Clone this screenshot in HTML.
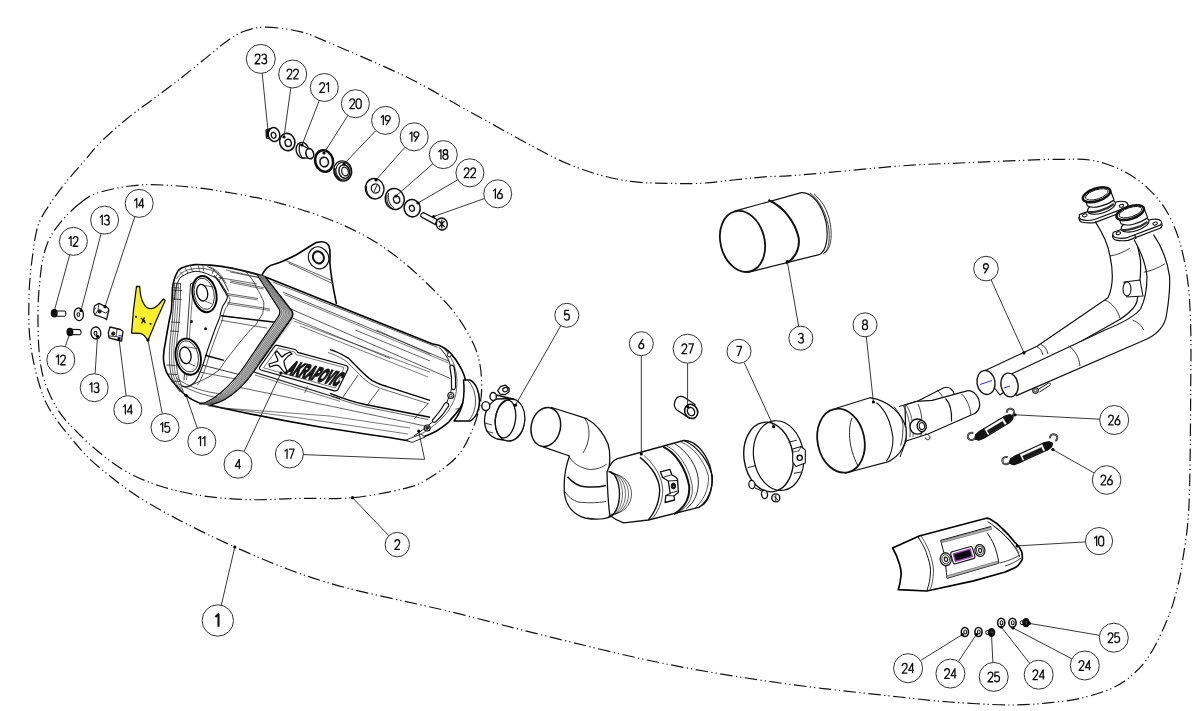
<!DOCTYPE html>
<html><head><meta charset="utf-8"><style>
html,body{margin:0;padding:0;background:#fff;overflow:hidden;}
svg{display:block;will-change:transform;}
text{font-family:"Liberation Sans",sans-serif;text-anchor:middle;fill:#111;}
</style></head><body>
<svg width="1201" height="711" viewBox="0 0 1201 711">
<rect width="1201" height="711" fill="#fff"/>
<path d="M266.0,27.2 C275.2,27.3 289.6,29.1 300.0,31.6 C310.4,34.1 310.5,34.8 328.3,42.4 C346.1,50.0 383.5,65.7 406.6,77.0 C429.7,88.3 445.6,98.4 466.7,110.0 C487.8,121.6 516.6,137.8 533.3,146.7 C550.0,155.6 555.6,158.6 566.7,163.3 C577.8,168.0 588.9,171.9 600.0,175.0 C611.1,178.1 622.2,180.3 633.3,181.7 C644.4,183.1 655.6,183.0 666.7,183.3 C677.8,183.6 688.9,183.9 700.0,183.3 C711.1,182.8 722.2,181.1 733.3,180.0 C744.4,178.9 755.6,177.5 766.7,176.7 C777.8,175.9 777.8,176.8 800.0,175.0 C822.2,173.2 873.3,168.0 900.0,166.0 C926.7,164.0 940.0,163.9 960.0,163.0 C980.0,162.1 1003.3,161.1 1020.0,160.5 C1036.7,159.9 1047.8,159.2 1060.4,159.3 C1073.0,159.4 1083.8,158.4 1095.5,161.0 C1107.2,163.6 1120.0,168.6 1130.5,175.0 C1141.0,181.4 1150.9,190.3 1158.5,199.6 C1166.1,208.9 1171.3,218.7 1176.0,231.0 C1180.7,243.3 1184.2,258.4 1186.6,273.2 C1189.0,288.0 1189.8,301.1 1190.5,320.0 C1191.2,338.9 1191.0,355.7 1190.7,386.5 C1190.5,417.3 1190.3,475.8 1189.0,504.7 C1187.7,533.6 1184.6,546.2 1182.7,560.0 C1180.8,573.8 1179.7,578.4 1177.4,587.6 C1175.1,596.8 1173.2,604.6 1169.0,615.2 C1164.8,625.8 1157.7,641.8 1152.0,651.3 C1146.3,660.8 1141.4,666.5 1135.0,672.5 C1128.6,678.5 1122.5,683.1 1113.7,687.4 C1104.9,691.6 1092.5,695.5 1081.9,698.0 C1071.3,700.5 1062.0,701.5 1050.0,702.7 C1038.0,703.9 1026.7,705.1 1010.0,705.0 C993.3,704.9 968.4,703.3 950.0,702.0 C931.6,700.7 927.7,700.1 899.7,697.0 C871.7,693.9 821.4,688.8 782.2,683.3 C743.1,677.8 703.9,671.5 664.8,663.7 C625.7,655.9 583.2,645.0 547.4,636.3 C511.6,627.6 486.7,620.6 450.0,611.6 C413.3,602.6 363.1,593.3 327.2,582.5 C291.3,571.7 264.3,560.1 234.8,547.0 C205.3,533.9 172.5,517.2 150.0,504.0 C127.5,490.8 112.3,478.0 100.0,468.0 C87.7,458.0 84.3,453.7 76.0,444.0 C67.7,434.3 56.3,420.7 50.0,410.0 C43.7,399.3 41.3,391.7 38.0,380.0 C34.7,368.3 31.5,353.9 30.0,340.0 C28.5,326.1 28.7,309.9 29.0,296.6 C29.3,283.3 30.5,271.8 32.0,260.0 C33.5,248.2 35.0,235.0 38.0,225.7 C41.0,216.4 45.7,210.8 50.0,204.0 C54.3,197.2 57.9,192.3 63.7,185.0 C69.5,177.7 78.8,167.2 85.0,160.0 C91.2,152.8 94.1,148.6 101.0,141.8 C107.9,135.0 118.1,126.0 126.6,119.0 C135.1,112.0 143.5,106.3 151.9,100.0 C160.3,93.7 168.8,87.5 177.2,81.0 C185.6,74.5 194.1,67.5 202.5,60.8 C210.9,54.0 220.7,45.5 227.8,40.5 C234.9,35.5 238.6,33.2 245.0,31.0 C251.4,28.8 256.8,27.1 266.0,27.2Z" fill="none" stroke="#111" stroke-width="1.2" stroke-dasharray="12.5 3.5 1.2 3 1.2 3.5"/>
<path d="M80.0,203.3 C74.3,207.7 67.7,214.1 62.7,219.8 C57.7,225.5 53.3,231.3 50.0,237.7 C46.7,244.1 44.8,250.1 43.0,258.0 C41.2,265.9 40.3,276.3 39.5,285.0 C38.7,293.7 38.1,299.2 38.0,310.0 C37.9,320.8 38.0,338.2 39.0,350.0 C40.0,361.8 41.1,370.6 44.3,380.6 C47.5,390.6 52.7,401.6 58.0,410.0 C63.3,418.4 69.0,423.8 76.0,431.0 C83.0,438.2 91.6,446.2 100.0,453.0 C108.4,459.8 116.6,466.3 126.6,471.8 C136.6,477.3 147.3,482.0 160.0,486.0 C172.7,490.0 187.3,493.5 202.5,495.8 C217.7,498.1 234.8,499.3 251.0,499.7 C267.2,500.1 283.1,498.7 300.0,498.4 C316.9,498.1 335.3,499.3 352.5,497.7 C369.7,496.1 390.8,491.8 403.0,488.9 C415.2,485.9 417.0,485.4 426.0,480.0 C435.0,474.6 449.2,465.3 457.0,456.6 C464.8,447.9 469.0,437.8 473.0,428.0 C477.0,418.2 479.8,408.5 481.0,398.0 C482.2,387.5 481.8,375.2 480.0,365.0 C478.2,354.8 475.6,347.3 470.0,337.0 C464.4,326.7 458.7,316.6 446.4,303.2 C434.1,289.8 413.1,269.4 396.4,256.6 C379.7,243.8 365.8,235.5 346.4,226.6 C327.0,217.7 302.2,209.4 280.0,203.3 C257.8,197.2 232.6,193.1 213.2,190.0 C193.8,186.9 177.2,185.7 163.3,185.0 C149.4,184.3 141.1,184.6 130.0,186.0 C118.9,187.4 105.0,190.4 96.7,193.3 C88.4,196.2 85.7,198.9 80.0,203.3Z" fill="none" stroke="#111" stroke-width="1.2" stroke-dasharray="12.5 3.5 1.2 3 1.2 3.5"/>
<path d="M262,275 C265,268 270,265 275,264 C282,262 290,258 296,255 L312,245 C318,240.5 326,240.5 329,246 C331,252 329.5,258 330,264 C331,278 334,292 336.5,304" fill="#fff" stroke="#000" stroke-width="1.60" stroke-linejoin="round"/>
<polyline points="286.0,260.6 333.0,281.0" fill="none" stroke="#222" stroke-width="0.70" stroke-linejoin="round"/>
<polyline points="288.5,262.9 333.5,284.0" fill="none" stroke="#222" stroke-width="0.70" stroke-linejoin="round"/>
<ellipse cx="318.6" cy="257.8" rx="10.0" ry="11.2" transform="rotate(-25.0 318.6 257.8)" fill="#fff" stroke="#111" stroke-width="1.10"/>
<ellipse cx="318.4" cy="257.4" rx="5.3" ry="6.2" transform="rotate(-25.0 318.4 257.4)" fill="#fff" stroke="#111" stroke-width="2.00"/>
<path d="M263,276 L432,343.8 C435,344.5 437.5,345 439.4,345.6 C444,347.5 447,349.5 450.3,352.9 C454,357 457,361 459.5,365.7 C462,370 464,374 465,378.5 C466,383 466,386 465.9,389.5 C465.5,394 464.5,398 463.1,402.3 C461.5,406 460,409 457.6,411.4 C454,416 451,419 448.5,422.4 C444,426 440,429 435.7,431.5 C429,435 423,437 417.4,438.8 C414,439.7 411,440.3 408.3,440.7 C380,436 350,431.5 320,427 C285,421 250,414 222,408 C210,405 204,403.5 199.4,403 C192,400 187,397 182,392 C176,386 170,379 166.7,372.7 C164.5,367 163.4,362 163.4,358 C163.5,352 164.5,346 165.6,341.2 C167.5,330 169.5,318 171.3,311.3 C172,303 172.2,295 172.4,288.8 C173,283 175.5,275 178,270.8 C180,268.5 182,267.5 184.8,266.8 C188,265.5 191,265 194.9,264.6 C200,264.4 205,264.8 210.6,265.1 C225,266.5 240,269 263,276 Z" fill="#fff" stroke="#000" stroke-width="1.60" stroke-linejoin="round"/>
<polyline points="272.8,282.0 437.5,347.4" fill="none" stroke="#222" stroke-width="0.75" stroke-linejoin="round"/>
<polyline points="282.9,292.1 448.5,361.0" fill="none" stroke="#222" stroke-width="0.75" stroke-linejoin="round"/>
<polyline points="284.5,294.5 448.5,363.0" fill="none" stroke="#222" stroke-width="0.60" stroke-linejoin="round"/>
<polyline points="290.8,309.0 450.3,378.5" fill="none" stroke="#222" stroke-width="0.75" stroke-linejoin="round"/>
<polyline points="292.4,318.0 390.0,358.4" fill="none" stroke="#222" stroke-width="0.70" stroke-linejoin="round"/>
<polyline points="294.0,321.0 430.0,372.2" fill="none" stroke="#222" stroke-width="0.60" stroke-linejoin="round"/>
<polyline points="300.0,326.0 428.0,377.0" fill="none" stroke="#222" stroke-width="0.60" stroke-linejoin="round"/>
<polyline points="376.4,330.0 430.0,354.0" fill="none" stroke="#222" stroke-width="0.70" stroke-linejoin="round"/>
<polyline points="355.3,330.0 430.0,361.0" fill="none" stroke="#222" stroke-width="0.70" stroke-linejoin="round"/>
<path d="M439,347.4 C444,352 447.5,357 449.3,362.1 C451,367 452,372 452.2,376.9 C452.3,382 451.8,387 450.8,391.7 C449,397 447,402 444.9,406.5 C441,413 437,418 431.6,422.7 C426,427.5 420,432 413.9,436" fill="none" stroke="#111" stroke-width="1.00" stroke-linejoin="round"/>
<path d="M441.5,346 C447,351 451,357 453.5,363 C455.5,369 456.5,374 457,380 C457,386 456.5,391 455.5,396 C453.5,402 451,406.5 448.5,410.5 C444.5,416.5 440,420.5 434.5,425 C428,430 421,434.5 413,438.5" fill="none" stroke="#222" stroke-width="0.70" stroke-linejoin="round"/>
<path d="M449.8,367 C450.5,364.5 453,364.5 454,367 C455.5,374 456,381 455.5,387.5 C455,390.5 452,390.5 451.5,387.5 C452,381 451.5,374 449.8,367 Z" fill="#fff" stroke="#111" stroke-width="1.20" stroke-linejoin="round"/>
<path d="M447.5,403 C449,404 449,406 448,407 C445,412 441,417 436,421.5 C434,423 431.5,422 432.5,420 C437,415 441,410 444,404.5 C445,403 446.5,402.5 447.5,403 Z" fill="#fff" stroke="#111" stroke-width="1.20" stroke-linejoin="round"/>
<circle cx="450.8" cy="395.5" r="3" fill="#fff" stroke="#111" stroke-width="1.1"/><circle cx="450.8" cy="395.5" r="1.4" fill="#fff" stroke="#111" stroke-width="0.9"/>
<circle cx="427.2" cy="428" r="3" fill="#fff" stroke="#111" stroke-width="1.1"/><circle cx="427.2" cy="428" r="1.4" fill="#333" stroke="#111" stroke-width="0.9"/>
<circle cx="449.3" cy="354.8" r="2" fill="#fff" stroke="#111" stroke-width="0.9"/>
<polyline points="455.5,409.0 466.0,407.5" fill="none" stroke="#222" stroke-width="0.70" stroke-linejoin="round"/>
<path d="M463.5,380 L470,380 C476,383 479.5,392 479.5,401 C479.5,410 476,418 470,421 L454,421 C458,416 461,410 462.8,403 C464,396 464.5,388 463.5,380 Z" fill="#fff" stroke="#000" stroke-width="1.50" stroke-linejoin="round"/>
<path d="M468.5,381 C473,386 475.5,394 475.5,401 C475.5,409 473,416 468.5,420.5" fill="none" stroke="#222" stroke-width="0.80" stroke-linejoin="round"/>
<path d="M330,349.7 C338,352 343,355 348.3,358.1 C352,362 355,365 358.1,368 C363,373 367,377 372.2,380.6 C377,383 381,385 386.3,386.3 L430,400.3" fill="none" stroke="#000" stroke-width="1.40" stroke-linejoin="round"/>
<path d="M328,352.5 C336,355 341,358 346,361 C350,365 353,368 356,371 C361,376 365,380 370,383.5 C375,386 379,388 384,389.5 L428,403.5" fill="none" stroke="#222" stroke-width="0.70" stroke-linejoin="round"/>
<path d="M330,393.3 C342,398 353,402 365.2,404.5 L430,417.2" fill="none" stroke="#000" stroke-width="1.40" stroke-linejoin="round"/>
<path d="M331,396 C343,400.5 354,404.5 366,407 L428,419.5" fill="none" stroke="#222" stroke-width="0.70" stroke-linejoin="round"/>
<polyline points="358.1,375.0 342.7,397.5" fill="none" stroke="#222" stroke-width="0.80" stroke-linejoin="round"/>
<polyline points="379.2,389.0 366.6,406.0" fill="none" stroke="#222" stroke-width="0.80" stroke-linejoin="round"/>
<polyline points="428.5,403.0 414.4,418.6" fill="none" stroke="#222" stroke-width="0.80" stroke-linejoin="round"/>
<polyline points="330.0,406.0 430.0,427.0" fill="none" stroke="#222" stroke-width="0.70" stroke-linejoin="round"/>
<polyline points="254.0,372.0 340.0,398.8" fill="none" stroke="#222" stroke-width="1.20" stroke-linejoin="round"/>
<polyline points="255.0,375.0 340.0,401.3" fill="none" stroke="#222" stroke-width="0.60" stroke-linejoin="round"/>
<polyline points="240.0,387.5 330.0,406.0" fill="none" stroke="#222" stroke-width="0.70" stroke-linejoin="round"/>
<polyline points="307.5,386.0 304.7,393.1" fill="none" stroke="#222" stroke-width="0.70" stroke-linejoin="round"/>
<polyline points="222.0,408.0 330.0,416.0 410.0,428.0" fill="none" stroke="#222" stroke-width="0.60" stroke-linejoin="round"/>
<polyline points="208.0,406.0 300.0,418.0 408.0,434.0" fill="none" stroke="#222" stroke-width="0.60" stroke-linejoin="round"/>
<path d="M174.5,300 C175,290 177,281 181,277 C186,273.5 191,271.8 195.3,271.3 C200,271.3 204,272.5 207.3,274 C211,275.5 214,277 216.7,278 C218.5,280 219.8,281.5 220.7,283.3 C223,287 225,290 226.7,292.7" fill="none" stroke="#111" stroke-width="1.00" stroke-linejoin="round"/>
<path d="M176.5,279 C179,274 183,271.5 188,269.8 C193,268.5 198,268 204,268.5 C210,269.5 214,271 217.5,273.5 C220,276 222,278.5 223.5,281" fill="none" stroke="#222" stroke-width="0.70" stroke-linejoin="round"/>
<path d="M207.3,266.5 C211,268 214.5,270 217,272.5 C220,276 222.5,279 224,282 C226,285.5 227.5,288.5 228.5,291.3" fill="none" stroke="#222" stroke-width="0.90" stroke-linejoin="round"/>
<path d="M210,266.8 C214,268.5 217,271 219.5,273.5 C222,277 224.5,280 226,283.5" fill="none" stroke="#222" stroke-width="0.60" stroke-linejoin="round"/>
<polyline points="180.0,271.5 183.5,275.5" fill="none" stroke="#222" stroke-width="0.70" stroke-linejoin="round"/>
<polyline points="185.0,268.0 188.0,273.0" fill="none" stroke="#222" stroke-width="0.70" stroke-linejoin="round"/>
<polyline points="190.5,266.2 192.5,271.5" fill="none" stroke="#222" stroke-width="0.70" stroke-linejoin="round"/>
<polyline points="198.0,265.0 199.5,270.5" fill="none" stroke="#222" stroke-width="0.70" stroke-linejoin="round"/>
<polyline points="203.0,265.2 203.5,270.8" fill="none" stroke="#222" stroke-width="0.70" stroke-linejoin="round"/>
<polyline points="214.0,269.0 212.0,274.0" fill="none" stroke="#222" stroke-width="0.70" stroke-linejoin="round"/>
<polyline points="218.5,272.5 216.0,276.5" fill="none" stroke="#222" stroke-width="0.70" stroke-linejoin="round"/>
<polyline points="222.0,276.5 219.5,280.0" fill="none" stroke="#222" stroke-width="0.70" stroke-linejoin="round"/>
<polyline points="174.0,283.0 180.0,283.5" fill="none" stroke="#222" stroke-width="0.70" stroke-linejoin="round"/>
<polyline points="173.5,287.5 179.5,288.0" fill="none" stroke="#222" stroke-width="0.70" stroke-linejoin="round"/>
<polyline points="230.0,267.4 257.0,274.7" fill="none" stroke="#222" stroke-width="0.70" stroke-linejoin="round"/>
<polyline points="226.0,270.0 257.0,277.0" fill="none" stroke="#222" stroke-width="0.60" stroke-linejoin="round"/>
<path d="M174.4,283 C174.0,300 172.7,320 170.2,340 C168.7,355 169.2,368 171.7,377 C174.2,383 176.5,388 180.1,392" fill="none" stroke="#222" stroke-width="0.80" stroke-linejoin="round"/>
<path d="M176.4,283 C176.2,300 174.9,320 172.4,340 C170.9,355 171.4,368 173.9,377 C176.4,383 178.1,388 181.2,392" fill="none" stroke="#222" stroke-width="0.60" stroke-linejoin="round"/>
<path d="M178.3,283 C178.4,300 177.1,320 174.6,340 C173.1,355 173.6,368 176.1,377 C178.6,383 179.6,388 182.3,392" fill="none" stroke="#222" stroke-width="0.60" stroke-linejoin="round"/>
<path d="M180.5,283 C180.8,300 179.5,320 177.0,340 C175.5,355 176.0,368 178.5,377 C181.0,383 181.3,388 183.5,392" fill="none" stroke="#222" stroke-width="0.80" stroke-linejoin="round"/>
<polyline points="173.0,290.0 182.0,290.5" fill="none" stroke="#222" stroke-width="0.80" stroke-linejoin="round"/>
<polyline points="172.5,299.0 181.5,299.5" fill="none" stroke="#222" stroke-width="0.80" stroke-linejoin="round"/>
<polyline points="171.0,322.0 180.0,322.5" fill="none" stroke="#222" stroke-width="0.80" stroke-linejoin="round"/>
<polyline points="170.0,331.0 179.0,331.5" fill="none" stroke="#222" stroke-width="0.80" stroke-linejoin="round"/>
<polyline points="166.5,365.0 175.5,365.5" fill="none" stroke="#222" stroke-width="0.80" stroke-linejoin="round"/>
<polyline points="168.0,374.0 177.0,374.5" fill="none" stroke="#222" stroke-width="0.80" stroke-linejoin="round"/>
<polyline points="171.0,381.0 180.0,381.5" fill="none" stroke="#222" stroke-width="0.80" stroke-linejoin="round"/>
<path d="M190.4,286.5 C190,284 191,283 193,283 M214,275.3 C218,280 221,284.5 223,288.8 C225,292 227,294.5 227.5,296.6 C227,300 225,303 223,305.6 C221.5,309 220.5,313 219.6,318 C217,324 215,329 212.9,335 C210,343 207,351 204.5,360 C202,368 199,376 195,382 C191,386 186,388 182,386" fill="none" stroke="#111" stroke-width="1.10" stroke-linejoin="round"/>
<path d="M216.5,277.5 C220.5,282 223.5,287 225.5,291 C228,295 229.5,297.5 230,299.5 C229.5,303 227.5,306 225.5,308.5 C224,312 223,316 222,321 C219.5,327 217.5,332 215.5,338 C212.5,346 209.5,354 207,363 C204.5,371 201.5,379 197.5,385" fill="none" stroke="#222" stroke-width="0.70" stroke-linejoin="round"/>
<path d="M190.4,286.5 L187,335 L184,380" fill="none" stroke="#222" stroke-width="0.90" stroke-linejoin="round"/>
<path d="M193,288 L189.5,336 L186.5,380" fill="none" stroke="#222" stroke-width="0.60" stroke-linejoin="round"/>
<ellipse cx="204.5" cy="294.1" rx="11.8" ry="18.3" transform="rotate(-12.0 204.5 294.1)" fill="#fff" stroke="#000" stroke-width="1.90"/>
<ellipse cx="204.2" cy="293.8" rx="9.8" ry="15.8" transform="rotate(-12.0 204.2 293.8)" fill="none" stroke="#111" stroke-width="0.80"/>
<ellipse cx="202.2" cy="292.7" rx="5.4" ry="8.4" transform="rotate(-12.0 202.2 292.7)" fill="#fff" stroke="#000" stroke-width="1.30"/>
<polyline points="204.5,285.5 213.5,287.0" fill="none" stroke="#222" stroke-width="0.70" stroke-linejoin="round"/>
<polyline points="205.0,301.0 212.0,304.0" fill="none" stroke="#222" stroke-width="0.70" stroke-linejoin="round"/>
<ellipse cx="188.2" cy="356.7" rx="12.4" ry="18.3" transform="rotate(-12.0 188.2 356.7)" fill="#fff" stroke="#000" stroke-width="1.90"/>
<ellipse cx="188.0" cy="356.4" rx="10.2" ry="15.8" transform="rotate(-12.0 188.0 356.4)" fill="none" stroke="#111" stroke-width="0.80"/>
<ellipse cx="185.4" cy="355.3" rx="5.6" ry="8.4" transform="rotate(-12.0 185.4 355.3)" fill="#fff" stroke="#000" stroke-width="1.30"/>
<polyline points="187.5,347.0 197.0,348.5" fill="none" stroke="#222" stroke-width="0.70" stroke-linejoin="round"/>
<polyline points="188.0,363.0 195.0,366.0" fill="none" stroke="#222" stroke-width="0.70" stroke-linejoin="round"/>
<circle cx="191.5" cy="321.4" r="1.5" fill="#111"/><circle cx="205.6" cy="328.7" r="1.5" fill="#111"/>
<polyline points="218.5,277.5 257.0,284.0" fill="none" stroke="#222" stroke-width="0.70" stroke-linejoin="round"/>
<polyline points="226.0,289.0 263.8,287.6" fill="none" stroke="#222" stroke-width="0.00" stroke-linejoin="round"/>
<polyline points="225.3,293.3 258.0,298.5" fill="none" stroke="#222" stroke-width="0.70" stroke-linejoin="round"/>
<polyline points="225.3,294.8 258.0,300.0" fill="none" stroke="#222" stroke-width="0.60" stroke-linejoin="round"/>
<polyline points="227.5,302.3 270.0,309.0" fill="none" stroke="#222" stroke-width="0.70" stroke-linejoin="round"/>
<polyline points="227.0,303.8 270.0,310.5" fill="none" stroke="#222" stroke-width="0.60" stroke-linejoin="round"/>
<polyline points="221.0,315.8 277.3,322.5" fill="none" stroke="#000" stroke-width="1.50" stroke-linejoin="round"/>
<polyline points="221.0,320.3 267.1,328.1" fill="none" stroke="#222" stroke-width="0.70" stroke-linejoin="round"/>
<polyline points="205.0,355.3 224.0,360.4" fill="none" stroke="#000" stroke-width="1.40" stroke-linejoin="round"/>
<polyline points="201.6,364.9 241.0,375.0" fill="none" stroke="#222" stroke-width="0.90" stroke-linejoin="round"/>
<polyline points="197.0,371.6 238.7,379.5" fill="none" stroke="#222" stroke-width="0.70" stroke-linejoin="round"/>
<polyline points="230.0,267.4 257.0,274.7" fill="none" stroke="#222" stroke-width="0.70" stroke-linejoin="round"/>
<polyline points="230.0,271.9 258.0,277.5" fill="none" stroke="#222" stroke-width="0.70" stroke-linejoin="round"/>
<polyline points="230.0,280.9 263.8,287.6" fill="none" stroke="#222" stroke-width="0.70" stroke-linejoin="round"/>
<polyline points="230.0,282.4 263.8,289.1" fill="none" stroke="#222" stroke-width="0.60" stroke-linejoin="round"/>
<path d="M244.6,270.8 C250,276 254,281 255.9,286.5 C259,292 262,297 263.8,302.3 C264,306 263.5,310 262.6,313.5 C260,318 258,321 255.9,324.8 C252,328 249.5,331 246.9,333.8 C240,342 232,352 226,360 C222,366 219,370 218.5,370.5 C210,377 200,382 188,386.2" fill="none" stroke="#222" stroke-width="0.80" stroke-linejoin="round"/>
<path d="M176,378 C190,388 205,392 222,394" fill="none" stroke="#222" stroke-width="0.70" stroke-linejoin="round"/>
<path d="M179,384 C195,393 210,397 226,399" fill="none" stroke="#222" stroke-width="0.70" stroke-linejoin="round"/>
<path d="M257,274.7 L279,309 C280.5,311.5 280.5,313.5 278,317 L250,358 C240,374 225,400 199.4,404.2 L211.4,404.7 C230,401 246,384 259,364 L290,325 C293.5,321 293.5,317 292,311 L265,276.4 Z" fill="#cdcdcd" stroke="none"/>
<path d="M257.0,274.7 L279.0,309.0 C280.5,311.5 280.5,313.5 278.0,317.0 L250.0,358.0 C240.0,374.0 219.4,400.2 199.4,404.2" fill="none" stroke="#000" stroke-width="1.20" stroke-linejoin="round"/>
<path d="M258.2,275.0 L280.9,309.3 C282.4,311.8 282.4,313.8 279.9,317.3 L251.3,358.9 C241.3,374.9 221.2,400.3 201.2,404.3" fill="none" stroke="#222" stroke-width="0.60" stroke-linejoin="round"/>
<path d="M259.4,275.2 L282.9,309.6 C284.4,312.1 284.4,314.1 281.9,317.6 L252.7,359.8 C242.7,375.8 223.0,400.3 203.0,404.3" fill="none" stroke="#333" stroke-width="0.55" stroke-linejoin="round"/>
<path d="M260.4,275.4 L284.5,309.8 C286.0,312.3 286.0,314.3 283.5,317.8 L253.8,360.5 C243.8,376.5 224.4,400.4 204.4,404.4" fill="none" stroke="#333" stroke-width="0.55" stroke-linejoin="round"/>
<path d="M261.3,275.6 L286.0,310.1 C287.5,312.6 287.5,314.6 285.0,318.1 L254.9,361.2 C244.9,377.2 225.9,400.5 205.9,404.5" fill="none" stroke="#333" stroke-width="0.55" stroke-linejoin="round"/>
<path d="M262.3,275.8 L287.6,310.3 C289.1,312.8 289.1,314.8 286.6,318.3 L255.9,362.0 C245.9,378.0 227.3,400.5 207.3,404.5" fill="none" stroke="#333" stroke-width="0.55" stroke-linejoin="round"/>
<path d="M263.2,276.0 L289.1,310.6 C290.6,313.1 290.6,315.1 288.1,318.6 L257.0,362.7 C247.0,378.7 228.8,400.6 208.8,404.6" fill="none" stroke="#333" stroke-width="0.55" stroke-linejoin="round"/>
<path d="M264.2,276.2 L290.7,310.8 C292.2,313.3 292.2,315.3 289.7,318.8 L258.1,363.4 C248.1,379.4 230.2,400.6 210.2,404.6" fill="none" stroke="#222" stroke-width="0.70" stroke-linejoin="round"/>
<path d="M265.0,276.4 L292.0,311.0 C293.5,313.5 293.5,315.5 291.0,319.0 L259.0,364.0 C249.0,380.0 231.4,400.7 211.4,404.7" fill="none" stroke="#000" stroke-width="1.30" stroke-linejoin="round"/>
<path d="M277.3,345.3 L295,349.5 C296.5,350 297,351 297.7,352.3 L346,365.5 C348,366.2 348.5,368 347.5,370 L338,389.5 C337.3,390.8 336.2,391.2 334.5,390.8 L261,370 C259.5,369.5 259,368.5 259.8,367 L274,347 C275,345.5 276,345 277.3,345.3 Z" fill="#fff" stroke="#000" stroke-width="1.20" stroke-linejoin="round"/>
<path d="M278,348 L294.5,352 L296,354.5 L344,367.5 L335.5,388 L263.5,367.8 Z" fill="none" stroke="#222" stroke-width="0.60" stroke-linejoin="round"/>
<path d="M270,367 C274,365 277,364 279,366 C281,368 283,371 285,373 L287,371 C285,367 284,364 284,361 C286,358 289,355 292,354 L290,352 C287,353 284,355 282,357 C280,355 278,352 277,351 L275,353 C276,356 278,359 278,361 C276,362 272,363 269,364 Z" fill="#fff" stroke="#000" stroke-width="1.20" stroke-linejoin="round"/>
<g transform="translate(285.3,373.2) rotate(13.5) skewX(-22)"><text x="0" y="0" font-size="19.5" font-weight="bold" style="text-anchor:start" transform="scale(0.45,1)" fill="#1a1a1a" stroke="#1a1a1a" stroke-width="2.2" letter-spacing="0.3">AKRAPOVIC</text></g>
<path d="M406,440 L421,434 L425,437 L412,442.5 Z" fill="#fff" stroke="#111" stroke-width="0.90" stroke-linejoin="round"/>
<path d="M266,130 L270,128.5 L271,138.5 L266.5,138 Z" fill="#fff" stroke="#111" stroke-width="1.30" stroke-linejoin="round" />
<ellipse cx="274.0" cy="134.5" rx="5.7" ry="7.0" transform="rotate(-15.0 274.0 134.5)" fill="#fff" stroke="#111" stroke-width="1.40" />
<ellipse cx="273.6" cy="135.3" rx="2.3" ry="3.0" transform="rotate(-15.0 273.6 135.3)" fill="#fff" stroke="#111" stroke-width="1.30" />
<path d="M267,131 L268,137" fill="none" stroke="#111" stroke-width="1.60" stroke-linejoin="round" />
<ellipse cx="287.3" cy="142.0" rx="7.6" ry="8.7" transform="rotate(-15.0 287.3 142.0)" fill="#fff" stroke="#111" stroke-width="1.60" />
<ellipse cx="288.2" cy="142.9" rx="3.1" ry="3.6" transform="rotate(-15.0 288.2 142.9)" fill="#fff" stroke="#111" stroke-width="1.40" />
<ellipse cx="302.5" cy="150.3" rx="6.3" ry="8.0" transform="rotate(-15.0 302.5 150.3)" fill="#fff" stroke="#111" stroke-width="1.40" />
<path d="M300,144 L308,148.6 L311,158.7 L302,157.5 C299,153 298.5,148 300,144 Z" fill="#fff" stroke="#111" stroke-width="1.20" stroke-linejoin="round" />
<ellipse cx="309.8" cy="153.7" rx="3.8" ry="5.1" transform="rotate(-15.0 309.8 153.7)" fill="#fff" stroke="#111" stroke-width="1.60" />
<ellipse cx="324.1" cy="161.0" rx="8.9" ry="10.8" transform="rotate(-15.0 324.1 161.0)" fill="#fff" stroke="#111" stroke-width="2.60" />
<ellipse cx="324.2" cy="162.0" rx="4.2" ry="4.8" transform="rotate(-15.0 324.2 162.0)" fill="#fff" stroke="#111" stroke-width="1.60" />
<ellipse cx="342.7" cy="171.0" rx="9.0" ry="10.2" transform="rotate(-15.0 342.7 171.0)" fill="#fff" stroke="#111" stroke-width="1.30" />
<ellipse cx="343.5" cy="171.2" rx="7.5" ry="9.0" transform="rotate(-15.0 343.5 171.2)" fill="none" stroke="#111" stroke-width="1.00" />
<ellipse cx="344.3" cy="171.5" rx="5.3" ry="6.8" transform="rotate(-15.0 344.3 171.5)" fill="#fff" stroke="#111" stroke-width="1.40" />
<ellipse cx="345.0" cy="171.5" rx="3.2" ry="4.5" transform="rotate(-15.0 345.0 171.5)" fill="#fff" stroke="#111" stroke-width="1.20" />
<path d="M335,168 C334,173 336,178 340,180" fill="none" stroke="#111" stroke-width="1.60" stroke-linejoin="round" />
<ellipse cx="374.7" cy="188.7" rx="9.3" ry="10.3" transform="rotate(-15.0 374.7 188.7)" fill="#fff" stroke="#111" stroke-width="1.40" />
<path d="M366.5,186 C366,191 368,196 372,198.5" fill="none" stroke="#111" stroke-width="1.20" stroke-linejoin="round" />
<ellipse cx="375.5" cy="188.5" rx="4.2" ry="4.6" transform="rotate(-15.0 375.5 188.5)" fill="#fff" stroke="#111" stroke-width="1.20" />
<path d="M374,192 L377,185" fill="none" stroke="#111" stroke-width="0.90" stroke-linejoin="round" />
<ellipse cx="394.7" cy="199.0" rx="9.5" ry="10.6" transform="rotate(-15.0 394.7 199.0)" fill="#fff" stroke="#111" stroke-width="1.50" />
<path d="M387,195 C386,201 388,206 393,209 M388.5,193 C387.5,199 389.5,205 394,208" fill="none" stroke="#111" stroke-width="1.00" stroke-linejoin="round" />
<ellipse cx="396.6" cy="199.6" rx="3.1" ry="3.6" transform="rotate(-15.0 396.6 199.6)" fill="#fff" stroke="#111" stroke-width="1.30" />
<ellipse cx="412.2" cy="208.2" rx="8.0" ry="8.7" transform="rotate(-15.0 412.2 208.2)" fill="#fff" stroke="#111" stroke-width="1.50" />
<ellipse cx="411.9" cy="208.3" rx="2.5" ry="3.0" transform="rotate(-15.0 411.9 208.3)" fill="#fff" stroke="#111" stroke-width="1.30" />
<path d="M423.5,212.6 L437,219.5 L435.5,224.6 L422,217.4 C420,216.5 420,213.5 423.5,212.6 Z" fill="#fff" stroke="#111" stroke-width="1.20" stroke-linejoin="round" />
<ellipse cx="441.8" cy="224.0" rx="5.5" ry="6.0" transform="rotate(-15.0 441.8 224.0)" fill="#fff" stroke="#111" stroke-width="1.40" />
<path d="M439,221 L444.5,227 M444.5,221 L439,227 M441.8,219.5 L441.8,228.5" fill="none" stroke="#111" stroke-width="1.20" stroke-linejoin="round" />
<path d="M55.8,311 L64.5,311 C66.3,311.5 66.3,316 64.5,316.3 L55.8,316.3" fill="#fff" stroke="#111" stroke-width="1.10" stroke-linejoin="round" />
<ellipse cx="54.2" cy="313.3" rx="2.8" ry="3.6" transform="rotate(0.0 54.2 313.3)" fill="#111" stroke="#111" stroke-width="1.40" />
<path d="M70.5,329.3 L79.8,329.6 C81.5,330 81.5,334.5 79.8,334.8 L70.5,334.6" fill="#fff" stroke="#111" stroke-width="1.10" stroke-linejoin="round" />
<ellipse cx="69.9" cy="332.0" rx="2.8" ry="3.6" transform="rotate(0.0 69.9 332.0)" fill="#111" stroke="#111" stroke-width="1.40" />
<ellipse cx="78.8" cy="314.3" rx="4.6" ry="6.3" transform="rotate(-8.0 78.8 314.3)" fill="#fff" stroke="#111" stroke-width="1.30" />
<ellipse cx="78.4" cy="314.6" rx="1.4" ry="1.9" transform="rotate(0.0 78.4 314.6)" fill="#fff" stroke="#111" stroke-width="1.10" />
<ellipse cx="95.9" cy="333.0" rx="4.9" ry="6.0" transform="rotate(-8.0 95.9 333.0)" fill="#fff" stroke="#111" stroke-width="1.30" />
<ellipse cx="95.5" cy="333.3" rx="1.4" ry="1.9" transform="rotate(0.0 95.5 333.3)" fill="#fff" stroke="#111" stroke-width="1.10" />
<path d="M94.5,306 L99,303.3 L107.5,307.5 L108.9,310 L106.5,319.5 L104,318 L95,314.8 L93.7,312 Z" fill="#fff" stroke="#111" stroke-width="1.30" stroke-linejoin="round" />
<path d="M99,303.3 L98,310 L106,313 L108.9,310 M98,310 L95,314.8" fill="none" stroke="#111" stroke-width="0.80" stroke-linejoin="round" />
<ellipse cx="99.7" cy="311.4" rx="1.6" ry="1.6" transform="rotate(0.0 99.7 311.4)" fill="#223" stroke="#111" stroke-width="1.00" />
<path d="M94.2,308 L95.8,308.6" fill="none" stroke="#2a2ae0" stroke-width="1.10" stroke-linejoin="round" />
<path d="M110,327 L120.5,329.5 L123,331.5 L121.5,341.2 L119,340.5 L109,337.8 L108.3,333 Z" fill="#fff" stroke="#111" stroke-width="1.30" stroke-linejoin="round" />
<path d="M117,329 L116,336.5 L121.5,338 M116,336.5 L109,336" fill="none" stroke="#111" stroke-width="0.80" stroke-linejoin="round" />
<ellipse cx="113.2" cy="333.6" rx="1.6" ry="1.6" transform="rotate(0.0 113.2 333.6)" fill="#223" stroke="#111" stroke-width="1.00" />
<path d="M118.5,335.6 L122,336" fill="none" stroke="#2a2ae0" stroke-width="1.10" stroke-linejoin="round" />
<path d="M136.5,286.5 L139.7,286.5 C140,293 141,298.5 143,302.5 C145,306.5 147.5,308.7 150.5,308.7 C154,308.7 157,306.5 159.5,303.5 C161,301.8 162.3,300.3 163.5,299 L165.2,300.6 C159,314 153,328 148,340.6 C146,337 144,334 140,333.3 C137,333 134,333 131.6,333 C132.5,318 134.5,300 136.5,286.5 Z" fill="#fff02a" stroke="#111" stroke-width="1.30" stroke-linejoin="round" />
<circle cx="136" cy="316.8" r="1.1" fill="#222"/><circle cx="150.5" cy="323.8" r="1.1" fill="#222"/>
<path d="M141,318 L145.5,323 M144.5,317.5 L141.5,323.5 M142,320 L145,321" fill="none" stroke="#222" stroke-width="1.50" stroke-linejoin="round" />
<path d="M497,399 C490,402 485,410 484.5,420 C484.5,430 489,436 497,439 L510,441 C518,440 524,432 524.6,420 C524.6,408 518,399 510,398.5 Z" fill="#fff" stroke="#111" stroke-width="1.30" stroke-linejoin="round" />
<ellipse cx="510.0" cy="420.0" rx="14.7" ry="21.0" transform="rotate(8.0 510.0 420.0)" fill="#fff" stroke="#111" stroke-width="1.20" />
<ellipse cx="505.5" cy="419.0" rx="10.0" ry="19.0" transform="rotate(8.0 505.5 419.0)" fill="none" stroke="#111" stroke-width="1.30" />
<path d="M485,423 L492,425 M486,431 L493,433" fill="none" stroke="#111" stroke-width="0.80" stroke-linejoin="round" />
<ellipse cx="485.8" cy="406.1" rx="4.0" ry="4.5" transform="rotate(0.0 485.8 406.1)" fill="#fff" stroke="#111" stroke-width="1.40" />
<ellipse cx="493.2" cy="396.5" rx="3.2" ry="4.0" transform="rotate(0.0 493.2 396.5)" fill="#fff" stroke="#111" stroke-width="1.40" />
<path d="M497.7,390.6 L500.7,386.4 L505.5,385.2 L509.1,388.2 L509.1,391.7 L504.9,394.7 L500.1,394.1 Z" fill="#fff" stroke="#111" stroke-width="1.30" stroke-linejoin="round" />
<ellipse cx="505.3" cy="389.6" rx="2.6" ry="2.1" transform="rotate(-20.0 505.3 389.6)" fill="none" stroke="#111" stroke-width="1.10" />
<path d="M496.5,395 L514.5,399.5" fill="none" stroke="#111" stroke-width="1.60" stroke-linejoin="round" />
<path d="M551.6,407.5 L586,418.3 C596,424 604,434 608,444 C611,454 610,464 608,473 L612,516 C606,519 596,520 585,518 C574,515 566,506 564.5,494 C563.5,482 565,468 569.5,456 L543.2,446.8 Z" fill="#fff" stroke="#111" stroke-width="1.30" stroke-linejoin="round" />
<ellipse cx="545.8" cy="427.0" rx="14.6" ry="19.7" transform="rotate(12.0 545.8 427.0)" fill="#fff" stroke="#111" stroke-width="1.50" />
<path d="M584.8,418.3 C590,425 591.5,440 583,453" fill="none" stroke="#111" stroke-width="0.80" stroke-linejoin="round" />
<path d="M568.4,454.8 C571,462 580,468.5 590.3,469.5 C597,469.5 603,467 606.8,464" fill="none" stroke="#111" stroke-width="0.80" stroke-linejoin="round" />
<path d="M567.5,476.8 C573,483 579,486.5 584.8,486.8 C593,487.5 600,487 606,485.5" fill="none" stroke="#111" stroke-width="1.50" stroke-linejoin="round" />
<path d="M564.7,491.4 C569,498 575,502 581.2,502.4 C590,503 597,503 606,501.5" fill="none" stroke="#111" stroke-width="0.80" stroke-linejoin="round" />
<path d="M616.7,458.8 L640,452.5 L683.6,440.5 C695,440 705,452 710,466 C714,480 712,496 704,504 L699,507.3 L648.4,520 L623.7,522.8 C618,521 613,518 610,515.5 C608,505 607.5,490 607,472 C609,466 612,461 616.7,458.8 Z" fill="#fff" stroke="#111" stroke-width="1.30" stroke-linejoin="round" />
<path d="M608.5,471.5 A11.0,22.5 0 0 1 608.5,516.5" fill="none" stroke="#111" stroke-width="1.40" stroke-linejoin="round" />
<path d="M609.3,472.1 A13.2,21.9 0 0 1 609.3,515.9" fill="none" stroke="#111" stroke-width="0.60" stroke-linejoin="round" />
<path d="M610.1,472.7 A15.4,21.3 0 0 1 610.1,515.3" fill="none" stroke="#111" stroke-width="0.60" stroke-linejoin="round" />
<path d="M610.9,473.3 A17.6,20.7 0 0 1 610.9,514.7" fill="none" stroke="#111" stroke-width="0.60" stroke-linejoin="round" />
<path d="M611.7,473.9 A19.8,20.1 0 0 1 611.7,514.1" fill="none" stroke="#111" stroke-width="0.70" stroke-linejoin="round" />
<path d="M640,457.4 C652,467 659,478 659.7,490 C659.5,503 655,512 648.4,520" fill="none" stroke="#111" stroke-width="1.40" stroke-linejoin="round" />
<path d="M644,455.5 C655,465 662,477 662.8,490 C662.5,503 658,512 651.5,519.3" fill="none" stroke="#111" stroke-width="0.70" stroke-linejoin="round" />
<path d="M663.2,446.9 C675,452 686,468 689.2,486.2 C690,498 686,507 673.7,514.4" fill="none" stroke="#111" stroke-width="2.00" stroke-linejoin="round" />
<path d="M666.5,445.9 C678,451 689,467 692.3,486 C693,498 689,506 677,513.5" fill="none" stroke="#111" stroke-width="0.70" stroke-linejoin="round" />
<path d="M674.4,443.4 C688,452 697,466 698.3,479.2 C699,492 695,502 686.4,508.7" fill="none" stroke="#111" stroke-width="0.90" stroke-linejoin="round" />
<path d="M683.6,440.5 C698,446 709,462 712.4,476.4 C713,490 707,502 699,507.3" fill="none" stroke="#111" stroke-width="1.30" stroke-linejoin="round" />
<path d="M680,441.5 C694,447 705,462 708.5,476.4 C709,490 703,501 695,508" fill="none" stroke="#111" stroke-width="0.70" stroke-linejoin="round" />
<path d="M660.4,471.8 L669.9,469.3 L671.8,474.7 L675.9,477.2 L677.5,479.1 L678.4,492.4 L675.9,494.3 L674,495.9 L674.6,500 L665.1,502.5 L665.8,495.5 L670.2,493.5 L668.3,481 L662.6,477.5 Z" fill="#fff" stroke="#111" stroke-width="1.30" stroke-linejoin="round" />
<path d="M662.6,477.5 L671.8,474.7 M668.3,481 L677.2,480.4 M670.2,493 L677.5,491.1 M665.8,495.5 L674,495.9" fill="none" stroke="#111" stroke-width="0.90" stroke-linejoin="round" />
<ellipse cx="673.4" cy="486.0" rx="2.3" ry="3.0" transform="rotate(0.0 673.4 486.0)" fill="#111" stroke="#111" stroke-width="0.80" />
<circle cx="673.6" cy="486.2" r="0.8" fill="#888"/>
<path d="M679,396.6 C681,396.2 683,396.6 685,397.8 L695,404.5 L689.7,418.4 L677,410 C674.5,408 674,404 675,401 C676,398.5 677.5,397 679,396.6 Z" fill="#fff" stroke="#111" stroke-width="1.30" stroke-linejoin="round" />
<ellipse cx="691.2" cy="411.4" rx="6.3" ry="7.3" transform="rotate(-30.0 691.2 411.4)" fill="#fff" stroke="#111" stroke-width="1.60" />
<ellipse cx="691.0" cy="411.6" rx="3.4" ry="4.3" transform="rotate(-30.0 691.0 411.6)" fill="#fff" stroke="#111" stroke-width="1.40" />
<ellipse cx="768.5" cy="457.0" rx="24.5" ry="35.0" transform="rotate(-8.0 768.5 457.0)" fill="none" stroke="#111" stroke-width="1.40" />
<ellipse cx="778.6" cy="455.6" rx="25.0" ry="35.0" transform="rotate(-8.0 778.6 455.6)" fill="none" stroke="#111" stroke-width="1.20" />
<path d="M747.7,467.7 L756,465.5 M788.4,442.3 L796.9,440.2 M794,473.3 L801,472" fill="none" stroke="#111" stroke-width="0.90" stroke-linejoin="round" />
<path d="M792.7,449 L801,446.5 L805.3,450 L805.3,463 L796,466.5 L792.7,462 Z" fill="#fff" stroke="#111" stroke-width="1.10" stroke-linejoin="round" />
<path d="M801,446.5 L799,451 L792.7,452" fill="none" stroke="#111" stroke-width="0.70" stroke-linejoin="round" />
<circle cx="799.7" cy="457.8" r="2.6" fill="#fff" stroke="#111" stroke-width="1.4"/>
<ellipse cx="751.9" cy="484.5" rx="3.0" ry="4.2" transform="rotate(-10.0 751.9 484.5)" fill="#fff" stroke="#111" stroke-width="1.30" />
<ellipse cx="764.5" cy="494.4" rx="3.0" ry="4.2" transform="rotate(-10.0 764.5 494.4)" fill="#fff" stroke="#111" stroke-width="1.30" />
<ellipse cx="775.8" cy="497.9" rx="4.0" ry="4.0" transform="rotate(0.0 775.8 497.9)" fill="#fff" stroke="#111" stroke-width="1.40" />
<path d="M773.5,496 L778,500 M775.8,494.5 L775.8,501" fill="none" stroke="#111" stroke-width="0.90" stroke-linejoin="round" />
<path d="M755,488 L762,491" fill="none" stroke="#111" stroke-width="1.00" stroke-linejoin="round" />
<path d="M735.4,210.9 L801.3,192.7 C812,192 822,205 826,222 C829,238 826,252 819,254.7 L748,272.4 Z" fill="#fff" stroke="#111" stroke-width="1.20" stroke-linejoin="round" />
<ellipse cx="742.5" cy="241.4" rx="22.0" ry="31.0" transform="rotate(-14.0 742.5 241.4)" fill="#fff" stroke="#111" stroke-width="1.80" />
<path d="M768.4,200 C784,207 795,222 798.7,238 C800,250 795,258 786,263.5" fill="none" stroke="#111" stroke-width="2.00" stroke-linejoin="round" />
<path d="M810,193 C820,200 827,215 829,230 C830,242 828,252 823,254" fill="none" stroke="#111" stroke-width="0.80" stroke-linejoin="round" />
<path d="M814,194 C824,202 830,215 831,230 C832,242 829,251 824,253" fill="none" stroke="#111" stroke-width="0.80" stroke-linejoin="round" />
<path d="M912,404 L943.8,387.7 C949,386 953.5,389.5 954.4,395 L945,402 Z" fill="#fff" stroke="#111" stroke-width="1.20" stroke-linejoin="round" />
<path d="M937,390.5 C941,393 943,397 943,400" fill="none" stroke="#111" stroke-width="0.80" stroke-linejoin="round" />
<path d="M905,405 L916.4,401.4 L932.2,400.3 L967,390.8 C974,390 979.5,397 979.7,405 C979.5,410 976,414 971.2,415 L928,434 L906,441 Z" fill="#fff" stroke="#111" stroke-width="1.25" stroke-linejoin="round" />
<path d="M945.5,398.5 C950,403 952,412 951.5,421.5" fill="none" stroke="#111" stroke-width="1.20" stroke-linejoin="round" />
<path d="M961.7,394 C966,398 970,406 971,415" fill="none" stroke="#111" stroke-width="0.80" stroke-linejoin="round" />
<path d="M918,404 C922,412 923,425 921,436" fill="none" stroke="#111" stroke-width="0.80" stroke-linejoin="round" />
<path d="M835.4,408.5 L870,397.7 C889,401 902,413 906,428 C908,443 901,455 888.6,461.6 L845.6,473 Z" fill="#fff" stroke="#111" stroke-width="1.20" stroke-linejoin="round" />
<path d="M876.5,402.7 C886,410 891,423 893,438 C893,447 891,455 886.6,461" fill="none" stroke="#111" stroke-width="1.10" stroke-linejoin="round" />
<path d="M894,406.5 C900,414 903,420 903,426.8 C903,435 902,441 900.6,445.8" fill="none" stroke="#111" stroke-width="0.80" stroke-linejoin="round" />
<path d="M899,406.5 L916,401.5 M900,457 L906,441" fill="none" stroke="#111" stroke-width="1.00" stroke-linejoin="round" />
<path d="M903,405.5 C908,413 911,425 910,437" fill="none" stroke="#111" stroke-width="0.70" stroke-linejoin="round" />
<path d="M906,404.5 C911,412 914,424 913,437" fill="none" stroke="#111" stroke-width="0.70" stroke-linejoin="round" />
<ellipse cx="917.4" cy="426.6" rx="7.4" ry="7.6" transform="rotate(0.0 917.4 426.6)" fill="#fff" stroke="#111" stroke-width="1.30" />
<ellipse cx="921.7" cy="426.1" rx="4.5" ry="5.5" transform="rotate(-10.0 921.7 426.1)" fill="#fff" stroke="#111" stroke-width="1.40" />
<ellipse cx="921.9" cy="426.1" rx="2.6" ry="3.5" transform="rotate(-10.0 921.9 426.1)" fill="#fff" stroke="#111" stroke-width="1.00" />
<path d="M925,434 C929,434 931,437 929.5,439 C928,440.5 925.5,439.5 925.5,437.5" fill="none" stroke="#111" stroke-width="1.00" stroke-linejoin="round" />
<ellipse cx="841.0" cy="440.7" rx="23.4" ry="32.3" transform="rotate(-12.0 841.0 440.7)" fill="#fff" stroke="#111" stroke-width="1.80" />
<path d="M852,418 C848,428 848,447 858,466" fill="none" stroke="#111" stroke-width="0.90" stroke-linejoin="round" />
<path d="M1095.2,221.7 C1102,232 1108,244 1110,256 C1113,270 1114,285 1108,297.7 L1037,346.3 L982,372 L1000,395 L1046.7,360.8 L1121,318.8 C1132,311 1137,305 1137.3,299.4 C1140,285 1141,270 1140.5,260.6 C1138,245 1134,232 1130.8,220" fill="#fff" stroke="#111" stroke-width="1.20" stroke-linejoin="round" />
<path d="M1134,239.5 C1140,250 1146,265 1147,276.7 C1147,290 1145,300 1140.5,309 C1135,316 1125,322 1105,330 L1003,378 L1016.4,395.6 L1147,339 C1158,334 1165,325 1166.4,315.5 C1169,300 1170,285 1169.6,276.7 C1167,258 1160,244 1153.5,234.7" fill="#fff" stroke="#111" stroke-width="1.20" stroke-linejoin="round" />
<ellipse cx="986.0" cy="382.5" rx="9.0" ry="12.0" transform="rotate(-10.0 986.0 382.5)" fill="#fff" stroke="#111" stroke-width="1.40" />
<ellipse cx="1009.5" cy="385.0" rx="8.5" ry="12.0" transform="rotate(-10.0 1009.5 385.0)" fill="#fff" stroke="#111" stroke-width="1.40" />
<path d="M980,384.5 L992,380.5" fill="none" stroke="#2233dd" stroke-width="1.00" stroke-linejoin="round" />
<path d="M1004,388 L1010,386" fill="none" stroke="#2233dd" stroke-width="1.00" stroke-linejoin="round" />
<path d="M1036.5,346.5 C1040,348 1042,351 1043,355 M1041,344.5 C1045,346 1047,350 1048,354 M1068.5,345.7 C1075,350 1079,357 1080,366 M1105,300 C1112,303 1118,310 1120.5,319.7 M1110,256 C1117,255 1124,252 1129.7,248.3 M1143.8,272.2 C1151,271 1158,268 1164.9,263.8 M1132.5,320 C1138,322 1142,326 1143.8,330" fill="none" stroke="#111" stroke-width="0.80" stroke-linejoin="round" />
<path d="M1124,282 L1140,280 L1143,296 L1127,297 Z" fill="#fff" stroke="#111" stroke-width="1.10" stroke-linejoin="round" />
<ellipse cx="1127.0" cy="289.0" rx="4.0" ry="7.0" transform="rotate(0.0 1127.0 289.0)" fill="#fff" stroke="#111" stroke-width="1.10" />
<g transform="translate(0.0 0.0)"><path d="M1079.8,214.4 L1117.2,201.7 C1122,200.8 1126,201.5 1127.5,203.4 C1128.5,205 1128,206.5 1126,207.6 L1094.6,219.5 C1089,221 1084,220.5 1081,219.4 C1079.2,218.5 1078.8,216 1079.8,214.4 Z" fill="#fff" stroke="#111" stroke-width="1.20" stroke-linejoin="round" /><path d="M1079,217 C1078.8,219 1079.5,221 1081.5,222 C1086,223.2 1090,223.2 1094.6,222.6 L1126.5,210.5 C1128.5,209 1128.8,207 1128,205.5" fill="none" stroke="#111" stroke-width="1.20" stroke-linejoin="round" /><ellipse cx="1084.8" cy="215.4" rx="2.3" ry="1.4" transform="rotate(-15.0 1084.8 215.4)" fill="#fff" stroke="#111" stroke-width="1.00" /><ellipse cx="1121.5" cy="205.8" rx="2.3" ry="1.4" transform="rotate(-15.0 1121.5 205.8)" fill="#fff" stroke="#111" stroke-width="1.00" /><ellipse cx="1101.5" cy="207.0" rx="14.5" ry="6.0" transform="rotate(-18.0 1101.5 207.0)" fill="#fff" stroke="#111" stroke-width="1.20" /><path d="M1088,212 C1094,213 1106,210 1114,204" fill="none" stroke="#333" stroke-width="2.20" stroke-linejoin="round" /><path d="M1084,197.5 L1087.5,206 C1093,209 1106,206 1114,200 L1110.5,190.5 Z" fill="#fff" stroke="#111" stroke-width="1.10" stroke-linejoin="round" /><ellipse cx="1096.6" cy="194.8" rx="14.3" ry="6.3" transform="rotate(-18.0 1096.6 194.8)" fill="#fff" stroke="#111" stroke-width="2.50" /><ellipse cx="1096.8" cy="194.4" rx="11.8" ry="4.6" transform="rotate(-18.0 1096.8 194.4)" fill="#fff" stroke="#111" stroke-width="0.90" /></g>
<g transform="translate(33.6 17.8)"><path d="M1079.8,214.4 L1117.2,201.7 C1122,200.8 1126,201.5 1127.5,203.4 C1128.5,205 1128,206.5 1126,207.6 L1094.6,219.5 C1089,221 1084,220.5 1081,219.4 C1079.2,218.5 1078.8,216 1079.8,214.4 Z" fill="#fff" stroke="#111" stroke-width="1.20" stroke-linejoin="round" /><path d="M1079,217 C1078.8,219 1079.5,221 1081.5,222 C1086,223.2 1090,223.2 1094.6,222.6 L1126.5,210.5 C1128.5,209 1128.8,207 1128,205.5" fill="none" stroke="#111" stroke-width="1.20" stroke-linejoin="round" /><ellipse cx="1084.8" cy="215.4" rx="2.3" ry="1.4" transform="rotate(-15.0 1084.8 215.4)" fill="#fff" stroke="#111" stroke-width="1.00" /><ellipse cx="1121.5" cy="205.8" rx="2.3" ry="1.4" transform="rotate(-15.0 1121.5 205.8)" fill="#fff" stroke="#111" stroke-width="1.00" /><ellipse cx="1101.5" cy="207.0" rx="14.5" ry="6.0" transform="rotate(-18.0 1101.5 207.0)" fill="#fff" stroke="#111" stroke-width="1.20" /><path d="M1088,212 C1094,213 1106,210 1114,204" fill="none" stroke="#333" stroke-width="2.20" stroke-linejoin="round" /><path d="M1084,197.5 L1087.5,206 C1093,209 1106,206 1114,200 L1110.5,190.5 Z" fill="#fff" stroke="#111" stroke-width="1.10" stroke-linejoin="round" /><ellipse cx="1096.6" cy="194.8" rx="14.3" ry="6.3" transform="rotate(-18.0 1096.6 194.8)" fill="#fff" stroke="#111" stroke-width="2.50" /><ellipse cx="1096.8" cy="194.4" rx="11.8" ry="4.6" transform="rotate(-18.0 1096.8 194.4)" fill="#fff" stroke="#111" stroke-width="0.90" /></g>
<path d="M1038,389.5 L1048.5,383 C1050.5,382.5 1051,384.5 1049.5,385.5 L1039.5,392" fill="#fff" stroke="#111" stroke-width="1.00" stroke-linejoin="round" />
<ellipse cx="1035.5" cy="390.5" rx="2.8" ry="2.8" transform="rotate(0.0 1035.5 390.5)" fill="none" stroke="#111" stroke-width="1.10" />
<ellipse cx="1035.5" cy="390.5" rx="1.3" ry="1.3" transform="rotate(0.0 1035.5 390.5)" fill="none" stroke="#111" stroke-width="0.80" />
<polygon points="974.8,438.9 975.7,434.6 979.6,431.3 1005.1,416.0 1009.6,414.7 1013.2,415.8 1012.5,419.5 1009.3,422.8 983.7,438.2 979.0,440.1" fill="#fff" stroke="#111" stroke-width="1.1" stroke-linejoin="round"/>
<polygon points="974.8,438.9 975.7,434.6 979.6,431.3 983.9,428.8 988.0,435.6 983.7,438.2 979.0,440.1" fill="#111" stroke="#111" stroke-width="0.6" stroke-linejoin="round"/>
<polygon points="1003.0,417.3 1005.1,416.0 1009.6,414.7 1013.2,415.8 1012.5,419.5 1009.3,422.8 1007.1,424.1" fill="#111" stroke="#111" stroke-width="0.6" stroke-linejoin="round"/>
<polygon points="989.5,434.3 1004.8,425.1 1002.5,421.3 987.2,430.5" fill="#1a1a1a" stroke="#111" stroke-width="0.4" stroke-linejoin="round"/>
<path d="M974.2,438.7 L973.7,439.2 L973.1,439.6 L972.5,439.8 L971.8,440.0 L971.1,440.0 L970.5,439.9 L969.8,439.6 L969.3,439.3 L968.7,438.8 L968.3,438.3 L968.0,437.7 L967.9,437.0 L967.8,436.3 L967.9,435.7 L968.1,435.0 L968.4,434.4 L968.8,433.9 L969.3,433.5 L969.9,433.1 L970.6,432.9 L971.2,432.8 L971.9,432.8 L972.6,433.0 L973.2,433.3" fill="none" stroke="#111" stroke-width="1.9" stroke-linecap="butt"/>
<path d="M974.2,438.7 L973.7,439.2 L973.1,439.6 L972.5,439.8 L971.8,440.0 L971.1,440.0 L970.5,439.9 L969.8,439.6 L969.3,439.3 L968.7,438.8 L968.3,438.3 L968.0,437.7 L967.9,437.0 L967.8,436.3 L967.9,435.7 L968.1,435.0 L968.4,434.4 L968.8,433.9 L969.3,433.5 L969.9,433.1 L970.6,432.9 L971.2,432.8 L971.9,432.8 L972.6,433.0 L973.2,433.3" fill="none" stroke="#fff" stroke-width="0.5"/>
<path d="M1012.7,415.0 L1013.2,414.5 L1013.5,414.0 L1013.8,413.4 L1013.9,412.8 L1014.0,412.2 L1013.9,411.6 L1013.8,411.0 L1013.5,410.4 L1013.2,409.9 L1012.7,409.4 L1012.2,409.1 L1011.6,408.8 L1011.0,408.7 L1010.4,408.6 L1009.8,408.7 L1009.2,408.8 L1008.6,409.1 L1008.1,409.4 L1007.6,409.9 L1007.3,410.4 L1007.0,411.0 L1006.9,411.6 L1006.8,412.2 L1006.9,412.8" fill="none" stroke="#111" stroke-width="1.9" stroke-linecap="butt"/>
<path d="M1012.7,415.0 L1013.2,414.5 L1013.5,414.0 L1013.8,413.4 L1013.9,412.8 L1014.0,412.2 L1013.9,411.6 L1013.8,411.0 L1013.5,410.4 L1013.2,409.9 L1012.7,409.4 L1012.2,409.1 L1011.6,408.8 L1011.0,408.7 L1010.4,408.6 L1009.8,408.7 L1009.2,408.8 L1008.6,409.1 L1008.1,409.4 L1007.6,409.9 L1007.3,410.4 L1007.0,411.0 L1006.9,411.6 L1006.8,412.2 L1006.9,412.8" fill="none" stroke="#fff" stroke-width="0.5"/>
<polygon points="1009.2,463.0 1010.6,458.8 1014.8,456.1 1044.6,442.6 1049.2,441.8 1052.6,443.3 1051.5,446.9 1047.9,449.8 1018.1,463.3 1013.3,464.7" fill="#fff" stroke="#111" stroke-width="1.1" stroke-linejoin="round"/>
<polygon points="1009.2,463.0 1010.6,458.8 1014.8,456.1 1019.4,454.0 1022.7,461.3 1018.1,463.3 1013.3,464.7" fill="#111" stroke="#111" stroke-width="0.6" stroke-linejoin="round"/>
<polygon points="1042.3,443.6 1044.6,442.6 1049.2,441.8 1052.6,443.3 1051.5,446.9 1047.9,449.8 1045.6,450.9" fill="#111" stroke="#111" stroke-width="0.6" stroke-linejoin="round"/>
<polygon points="1024.3,460.1 1043.2,451.5 1041.3,447.5 1022.5,456.1" fill="#1a1a1a" stroke="#111" stroke-width="0.4" stroke-linejoin="round"/>
<path d="M1008.8,462.9 L1008.3,463.4 L1007.7,463.8 L1007.1,464.0 L1006.4,464.2 L1005.7,464.2 L1005.1,464.1 L1004.4,463.8 L1003.9,463.5 L1003.3,463.0 L1002.9,462.5 L1002.6,461.9 L1002.5,461.2 L1002.4,460.5 L1002.5,459.9 L1002.7,459.2 L1003.0,458.6 L1003.4,458.1 L1003.9,457.7 L1004.5,457.3 L1005.2,457.1 L1005.8,457.0 L1006.5,457.0 L1007.2,457.2 L1007.8,457.5" fill="none" stroke="#111" stroke-width="1.9" stroke-linecap="butt"/>
<path d="M1008.8,462.9 L1008.3,463.4 L1007.7,463.8 L1007.1,464.0 L1006.4,464.2 L1005.7,464.2 L1005.1,464.1 L1004.4,463.8 L1003.9,463.5 L1003.3,463.0 L1002.9,462.5 L1002.6,461.9 L1002.5,461.2 L1002.4,460.5 L1002.5,459.9 L1002.7,459.2 L1003.0,458.6 L1003.4,458.1 L1003.9,457.7 L1004.5,457.3 L1005.2,457.1 L1005.8,457.0 L1006.5,457.0 L1007.2,457.2 L1007.8,457.5" fill="none" stroke="#fff" stroke-width="0.5"/>
<path d="M1055.4,440.9 L1055.9,440.5 L1056.4,440.1 L1056.8,439.5 L1057.0,438.9 L1057.2,438.3 L1057.2,437.6 L1057.1,437.0 L1056.9,436.4 L1056.6,435.8 L1056.2,435.3 L1055.7,434.9 L1055.1,434.5 L1054.5,434.3 L1053.9,434.2 L1053.2,434.2 L1052.6,434.4 L1052.0,434.6 L1051.4,434.9 L1050.9,435.4 L1050.5,435.9 L1050.2,436.5 L1050.1,437.1 L1050.0,437.8 L1050.1,438.4" fill="none" stroke="#111" stroke-width="1.9" stroke-linecap="butt"/>
<path d="M1055.4,440.9 L1055.9,440.5 L1056.4,440.1 L1056.8,439.5 L1057.0,438.9 L1057.2,438.3 L1057.2,437.6 L1057.1,437.0 L1056.9,436.4 L1056.6,435.8 L1056.2,435.3 L1055.7,434.9 L1055.1,434.5 L1054.5,434.3 L1053.9,434.2 L1053.2,434.2 L1052.6,434.4 L1052.0,434.6 L1051.4,434.9 L1050.9,435.4 L1050.5,435.9 L1050.2,436.5 L1050.1,437.1 L1050.0,437.8 L1050.1,438.4" fill="none" stroke="#fff" stroke-width="0.5"/>
<path d="M892.6,548 C895,552 898,559 899.6,564.4 C901,569 901.2,575 900.8,577 C900.5,582 899.5,586 898.3,589.7 L926.8,591 L973.6,580.9 L1005.2,572 C1010,570 1015,568 1017.9,565.7 C1020,563 1021.5,561 1022.3,559.3 C1022.5,556 1022.3,554 1021.7,551.8 C1020,547 1017,544 1014.1,541.6 C1010,536 1006,532 1002.7,529 C998,524 994,521 990,518.9 C988.5,518.3 987,518.2 986.2,518.2 L919.2,536 Z" fill="#fff" stroke="#000" stroke-width="1.70" stroke-linejoin="round" />
<path d="M917.9,536.6 C923,545 926,550 926.8,554.3 C929,560 930.5,566 930.5,570.7 C930.5,578 929,585 926.8,591" fill="none" stroke="#111" stroke-width="1.00" stroke-linejoin="round" />
<path d="M921,535.8 C926,544 929,550 930,554 C932,560 933.5,566 933.5,571 C933.5,578 932,585 930,590.5" fill="none" stroke="#111" stroke-width="0.70" stroke-linejoin="round" />
<path d="M987.5,521.5 C998,528 1007,537 1013,545 C1017,550 1019,554 1019.5,557" fill="none" stroke="#111" stroke-width="0.90" stroke-linejoin="round" />
<path d="M993.8,526.4 C1003,533 1011,541 1016,548 C1018,551 1019,553 1019.1,553" fill="none" stroke="#111" stroke-width="0.70" stroke-linejoin="round" />
<path d="M1000,563 C1008,561 1015,558 1020,555" fill="none" stroke="#111" stroke-width="0.80" stroke-linejoin="round" />
<path d="M1005,566 C1012,564 1017,561 1021,558" fill="none" stroke="#111" stroke-width="0.80" stroke-linejoin="round" />
<path d="M940.7,540.4 L991.3,526.4 M947,578.3 L998.9,563.1 M940.7,540.4 C943,550 945,556 945.7,559.3 M945.7,566 C946.2,570 946.7,575 947,578.3" fill="none" stroke="#111" stroke-width="1.00" stroke-linejoin="round" />
<path d="M941,541 L991,527 L991.7,529.3 L941.8,542.8 Z M946.5,576 L998,561 L998.9,563.1 L947,578.3 Z" fill="#b5b5b5" stroke="#333" stroke-width="0.5"/>
<path d="M987.5,533.4 C992,540 995,546 996.4,551.8 C997.5,556 998.5,560 998.9,563.1" fill="none" stroke="#111" stroke-width="1.00" stroke-linejoin="round" />
<ellipse cx="945.7" cy="559.3" rx="5.5" ry="6.5" transform="rotate(-10.0 945.7 559.3)" fill="#fff" stroke="#111" stroke-width="1.20" />
<ellipse cx="945.7" cy="559.3" rx="3.8" ry="4.6" transform="rotate(-10.0 945.7 559.3)" fill="#fff" stroke="#111" stroke-width="0.80" />
<ellipse cx="945.9" cy="559.3" rx="1.6" ry="2.2" transform="rotate(-10.0 945.9 559.3)" fill="#fff" stroke="#111" stroke-width="1.20" />
<ellipse cx="979.9" cy="550.5" rx="5.0" ry="6.0" transform="rotate(-10.0 979.9 550.5)" fill="#fff" stroke="#111" stroke-width="1.20" />
<ellipse cx="979.9" cy="550.5" rx="3.4" ry="4.2" transform="rotate(-10.0 979.9 550.5)" fill="#fff" stroke="#111" stroke-width="0.80" />
<ellipse cx="980.1" cy="550.5" rx="1.5" ry="2.1" transform="rotate(-10.0 980.1 550.5)" fill="#fff" stroke="#111" stroke-width="1.20" />
<g transform="rotate(-16 962.8 555.2)"><rect x="951.5" y="549" width="22.6" height="12.4" rx="2" fill="#fff" stroke="#111" stroke-width="1.1"/><rect x="953.3" y="550.6" width="19" height="9.2" rx="0.8" fill="#a040c8"/><rect x="954.6" y="552" width="16.4" height="6.4" fill="#050505"/></g>
<ellipse cx="964.9" cy="632.0" rx="3.6" ry="4.5" transform="rotate(0.0 964.9 632.0)" fill="#fff" stroke="#111" stroke-width="1.60" />
<ellipse cx="965.2" cy="632.0" rx="1.4" ry="2.0" transform="rotate(0.0 965.2 632.0)" fill="#fff" stroke="#111" stroke-width="1.10" />
<ellipse cx="978.5" cy="632.0" rx="3.6" ry="4.5" transform="rotate(0.0 978.5 632.0)" fill="#fff" stroke="#111" stroke-width="1.60" />
<ellipse cx="978.8" cy="632.0" rx="1.4" ry="2.0" transform="rotate(0.0 978.8 632.0)" fill="#fff" stroke="#111" stroke-width="1.10" />
<ellipse cx="1001.2" cy="622.7" rx="3.6" ry="4.5" transform="rotate(0.0 1001.2 622.7)" fill="#fff" stroke="#111" stroke-width="1.60" />
<ellipse cx="1001.5" cy="622.7" rx="1.4" ry="2.0" transform="rotate(0.0 1001.5 622.7)" fill="#fff" stroke="#111" stroke-width="1.10" />
<ellipse cx="1012.5" cy="622.7" rx="3.6" ry="4.5" transform="rotate(0.0 1012.5 622.7)" fill="#fff" stroke="#111" stroke-width="1.60" />
<ellipse cx="1012.8" cy="622.7" rx="1.4" ry="2.0" transform="rotate(0.0 1012.8 622.7)" fill="#fff" stroke="#111" stroke-width="1.10" />
<ellipse cx="987.5" cy="632.5" rx="1.8" ry="2.0" transform="rotate(0.0 987.5 632.5)" fill="#fff" stroke="#111" stroke-width="1.00" />
<ellipse cx="991.5" cy="632.5" rx="3.2" ry="4.0" transform="rotate(0.0 991.5 632.5)" fill="#111" stroke="#111" stroke-width="1.20" />
<ellipse cx="991.9" cy="632.5" rx="1.4" ry="2.0" transform="rotate(0.0 991.9 632.5)" fill="#444" stroke="#111" stroke-width="0.80" />
<ellipse cx="1022.0" cy="622.7" rx="1.8" ry="2.0" transform="rotate(0.0 1022.0 622.7)" fill="#fff" stroke="#111" stroke-width="1.00" />
<ellipse cx="1026.0" cy="622.7" rx="3.2" ry="4.0" transform="rotate(0.0 1026.0 622.7)" fill="#111" stroke="#111" stroke-width="1.20" />
<ellipse cx="1026.4" cy="622.7" rx="1.4" ry="2.0" transform="rotate(0.0 1026.4 622.7)" fill="#444" stroke="#111" stroke-width="0.80" />
<line x1="221.3" y1="605.2" x2="234.8" y2="547.0" stroke="#222" stroke-width="0.9"/>
<circle cx="234.8" cy="547.0" r="1.6" fill="#000"/>
<circle cx="217.8" cy="620.5" r="15.7" fill="#fff" stroke="#333" stroke-width="1"/>
<g transform="translate(217.30 620.50) scale(1.200)" fill="none" stroke="#111" stroke-width="1.75" stroke-linejoin="round" stroke-linecap="butt"><path d="M0,2.4 L2.6,0 L2.6,10.6" transform="translate(-1.60 -5.30)"/></g>
<line x1="388.9" y1="535.8" x2="352.5" y2="497.7" stroke="#222" stroke-width="0.9"/>
<circle cx="352.5" cy="497.7" r="1.6" fill="#000"/>
<circle cx="397.3" cy="544.6" r="12.2" fill="#fff" stroke="#333" stroke-width="1"/>
<g transform="translate(397.30 544.60) scale(0.915)" fill="none" stroke="#111" stroke-width="1.42" stroke-linejoin="round" stroke-linecap="butt"><path d="M0.1,2.7 C0.3,1 1.4,0 2.8,0 C4.4,0 5.4,1.1 5.4,2.7 C5.4,3.9 4.9,4.8 4.1,5.8 L0.1,10.6 L5.7,10.6" transform="translate(-2.80 -5.30)"/></g>
<line x1="798.7" y1="326.4" x2="787.3" y2="261.5" stroke="#222" stroke-width="0.9"/>
<circle cx="787.3" cy="261.5" r="1.6" fill="#000"/>
<circle cx="800.8" cy="338.2" r="12.0" fill="#fff" stroke="#333" stroke-width="1"/>
<g transform="translate(800.80 338.20) scale(0.915)" fill="none" stroke="#111" stroke-width="1.42" stroke-linejoin="round" stroke-linecap="butt"><path d="M0.2,1.9 C0.7,0.6 1.7,0 2.8,0 C4.3,0 5.3,1 5.3,2.6 C5.3,4.1 4.2,5 2.5,5 C4.4,5 5.6,6 5.6,7.8 C5.6,9.6 4.4,10.6 2.8,10.6 C1.5,10.6 0.4,9.9 0.1,8.6" transform="translate(-2.80 -5.30)"/></g>
<line x1="244.0" y1="451.5" x2="281.0" y2="373.0" stroke="#222" stroke-width="0.9"/>
<circle cx="281.0" cy="373.0" r="1.6" fill="#000"/>
<circle cx="238.0" cy="464.2" r="14.0" fill="#fff" stroke="#333" stroke-width="1"/>
<g transform="translate(238.00 464.20) scale(0.915)" fill="none" stroke="#111" stroke-width="1.42" stroke-linejoin="round" stroke-linecap="butt"><path d="M4.3,10.6 L4.3,0 L0,7.6 L5.9,7.6" transform="translate(-2.90 -5.30)"/></g>
<line x1="560.8" y1="325.7" x2="515.4" y2="405.2" stroke="#222" stroke-width="0.9"/>
<circle cx="515.4" cy="405.2" r="1.6" fill="#000"/>
<circle cx="566.8" cy="315.3" r="12.0" fill="#fff" stroke="#333" stroke-width="1"/>
<g transform="translate(566.80 315.30) scale(0.915)" fill="none" stroke="#111" stroke-width="1.42" stroke-linejoin="round" stroke-linecap="butt"><path d="M5.2,0 L0.7,0 L0.4,4.9 C1.1,4.2 1.9,3.9 2.9,3.9 C4.6,3.9 5.6,5.1 5.6,7.1 C5.6,9.3 4.4,10.6 2.8,10.6 C1.5,10.6 0.5,9.9 0.1,8.7" transform="translate(-2.80 -5.30)"/></g>
<line x1="641.3" y1="355.7" x2="641.3" y2="454.0" stroke="#222" stroke-width="0.9"/>
<circle cx="641.3" cy="454.0" r="1.6" fill="#000"/>
<circle cx="641.3" cy="343.7" r="12.0" fill="#fff" stroke="#333" stroke-width="1"/>
<g transform="translate(641.30 343.70) scale(0.915)" fill="none" stroke="#111" stroke-width="1.42" stroke-linejoin="round" stroke-linecap="butt"><path d="M4.6,0 L1.2,5.2 C0.5,6.2 0.1,6.9 0.1,7.8 C0.1,9.5 1.2,10.6 2.8,10.6 C4.4,10.6 5.5,9.5 5.5,7.7 C5.5,5.9 4.4,4.9 2.9,4.9 C2.2,4.9 1.6,5.1 1.1,5.5" transform="translate(-2.80 -5.30)"/></g>
<line x1="744.0" y1="362.2" x2="773.7" y2="426.7" stroke="#222" stroke-width="0.9"/>
<circle cx="773.7" cy="426.7" r="1.6" fill="#000"/>
<circle cx="739.0" cy="351.3" r="12.0" fill="#fff" stroke="#333" stroke-width="1"/>
<g transform="translate(739.00 351.30) scale(0.915)" fill="none" stroke="#111" stroke-width="1.42" stroke-linejoin="round" stroke-linecap="butt"><path d="M0,0 L5.6,0 L1.8,10.6" transform="translate(-2.80 -5.30)"/></g>
<line x1="866.3" y1="336.7" x2="873.4" y2="402.0" stroke="#222" stroke-width="0.9"/>
<circle cx="873.4" cy="402.0" r="1.6" fill="#000"/>
<circle cx="865.0" cy="324.8" r="12.0" fill="#fff" stroke="#333" stroke-width="1"/>
<g transform="translate(865.00 324.80) scale(0.915)" fill="none" stroke="#111" stroke-width="1.42" stroke-linejoin="round" stroke-linecap="butt"><path d="M2.8,4.9 C1.3,4.9 0.4,4 0.4,2.5 C0.4,1 1.4,0 2.8,0 C4.2,0 5.2,1 5.2,2.5 C5.2,4 4.3,4.9 2.8,4.9 C1.1,4.9 0,6 0,7.7 C0,9.5 1.2,10.6 2.8,10.6 C4.4,10.6 5.6,9.5 5.6,7.7 C5.6,6 4.5,4.9 2.8,4.9 Z" transform="translate(-2.80 -5.30)"/></g>
<line x1="991.1" y1="279.8" x2="1024.0" y2="352.8" stroke="#222" stroke-width="0.9"/>
<circle cx="1024.0" cy="352.8" r="1.6" fill="#000"/>
<circle cx="986.0" cy="268.6" r="12.3" fill="#fff" stroke="#333" stroke-width="1"/>
<g transform="translate(986.00 268.60) scale(0.915)" fill="none" stroke="#111" stroke-width="1.42" stroke-linejoin="round" stroke-linecap="butt"><path d="M1,10.6 L4.4,5.4 C5.1,4.4 5.5,3.7 5.5,2.8 C5.5,1.1 4.4,0 2.8,0 C1.2,0 0.1,1.1 0.1,2.9 C0.1,4.7 1.2,5.7 2.7,5.7 C3.4,5.7 4,5.5 4.5,5.1" transform="translate(-2.80 -5.30)"/></g>
<line x1="1085.4" y1="541.9" x2="1017.2" y2="545.9" stroke="#222" stroke-width="0.9"/>
<circle cx="1017.2" cy="545.9" r="1.6" fill="#000"/>
<circle cx="1099.0" cy="541.1" r="13.6" fill="#fff" stroke="#333" stroke-width="1"/>
<g transform="translate(1099.00 541.10) scale(0.915)" fill="none" stroke="#111" stroke-width="1.42" stroke-linejoin="round" stroke-linecap="butt"><path d="M0,2.4 L2.6,0 L2.6,10.6" transform="translate(-5.15 -5.30)"/><path d="M2.8,0 C4.6,0 5.6,1.6 5.6,3.6 L5.6,7 C5.6,9 4.6,10.6 2.8,10.6 C1,10.6 0,9 0,7 L0,3.6 C0,1.6 1,0 2.8,0 Z" transform="translate(-0.45 -5.30)"/></g>
<line x1="197.3" y1="428.2" x2="186.0" y2="395.3" stroke="#222" stroke-width="0.9"/>
<circle cx="186.0" cy="395.3" r="1.6" fill="#000"/>
<circle cx="201.8" cy="441.4" r="14.0" fill="#fff" stroke="#333" stroke-width="1"/>
<g transform="translate(201.80 441.40) scale(0.915)" fill="none" stroke="#111" stroke-width="1.42" stroke-linejoin="round" stroke-linecap="butt"><path d="M0,2.4 L2.6,0 L2.6,10.6" transform="translate(-3.95 -5.30)"/><path d="M0,2.4 L2.6,0 L2.6,10.6" transform="translate(0.75 -5.30)"/></g>
<line x1="69.7" y1="254.9" x2="54.4" y2="310.5" stroke="#222" stroke-width="0.9"/>
<circle cx="54.4" cy="310.5" r="1.6" fill="#000"/>
<circle cx="73.4" cy="241.4" r="14.0" fill="#fff" stroke="#333" stroke-width="1"/>
<g transform="translate(73.40 241.40) scale(0.915)" fill="none" stroke="#111" stroke-width="1.42" stroke-linejoin="round" stroke-linecap="butt"><path d="M0,2.4 L2.6,0 L2.6,10.6" transform="translate(-5.15 -5.30)"/><path d="M0.1,2.7 C0.3,1 1.4,0 2.8,0 C4.4,0 5.4,1.1 5.4,2.7 C5.4,3.9 4.9,4.8 4.1,5.8 L0.1,10.6 L5.7,10.6" transform="translate(-0.45 -5.30)"/></g>
<line x1="101.1" y1="233.6" x2="81.0" y2="310.5" stroke="#222" stroke-width="0.9"/>
<circle cx="81.0" cy="310.5" r="1.6" fill="#000"/>
<circle cx="104.6" cy="220.1" r="14.0" fill="#fff" stroke="#333" stroke-width="1"/>
<g transform="translate(104.60 220.10) scale(0.915)" fill="none" stroke="#111" stroke-width="1.42" stroke-linejoin="round" stroke-linecap="butt"><path d="M0,2.4 L2.6,0 L2.6,10.6" transform="translate(-5.15 -5.30)"/><path d="M0.2,1.9 C0.7,0.6 1.7,0 2.8,0 C4.3,0 5.3,1 5.3,2.6 C5.3,4.1 4.2,5 2.5,5 C4.4,5 5.6,6 5.6,7.8 C5.6,9.6 4.4,10.6 2.8,10.6 C1.5,10.6 0.4,9.9 0.1,8.6" transform="translate(-0.45 -5.30)"/></g>
<line x1="134.8" y1="216.7" x2="105.0" y2="306.7" stroke="#222" stroke-width="0.9"/>
<circle cx="105.0" cy="306.7" r="1.6" fill="#000"/>
<circle cx="139.2" cy="203.4" r="14.0" fill="#fff" stroke="#333" stroke-width="1"/>
<g transform="translate(139.20 203.40) scale(0.915)" fill="none" stroke="#111" stroke-width="1.42" stroke-linejoin="round" stroke-linecap="butt"><path d="M0,2.4 L2.6,0 L2.6,10.6" transform="translate(-5.25 -5.30)"/><path d="M4.3,10.6 L4.3,0 L0,7.6 L5.9,7.6" transform="translate(-0.55 -5.30)"/></g>
<line x1="65.3" y1="346.6" x2="69.6" y2="333.8" stroke="#222" stroke-width="0.9"/>
<circle cx="69.6" cy="333.8" r="1.6" fill="#000"/>
<circle cx="60.8" cy="359.9" r="14.0" fill="#fff" stroke="#333" stroke-width="1"/>
<g transform="translate(60.80 359.90) scale(0.915)" fill="none" stroke="#111" stroke-width="1.42" stroke-linejoin="round" stroke-linecap="butt"><path d="M0,2.4 L2.6,0 L2.6,10.6" transform="translate(-5.15 -5.30)"/><path d="M0.1,2.7 C0.3,1 1.4,0 2.8,0 C4.4,0 5.4,1.1 5.4,2.7 C5.4,3.9 4.9,4.8 4.1,5.8 L0.1,10.6 L5.7,10.6" transform="translate(-0.45 -5.30)"/></g>
<line x1="95.1" y1="373.7" x2="97.5" y2="336.3" stroke="#222" stroke-width="0.9"/>
<circle cx="97.5" cy="336.3" r="1.6" fill="#000"/>
<circle cx="94.2" cy="387.7" r="14.0" fill="#fff" stroke="#333" stroke-width="1"/>
<g transform="translate(94.20 387.70) scale(0.915)" fill="none" stroke="#111" stroke-width="1.42" stroke-linejoin="round" stroke-linecap="butt"><path d="M0,2.4 L2.6,0 L2.6,10.6" transform="translate(-5.15 -5.30)"/><path d="M0.2,1.9 C0.7,0.6 1.7,0 2.8,0 C4.3,0 5.3,1 5.3,2.6 C5.3,4.1 4.2,5 2.5,5 C4.4,5 5.6,6 5.6,7.8 C5.6,9.6 4.4,10.6 2.8,10.6 C1.5,10.6 0.4,9.9 0.1,8.6" transform="translate(-0.45 -5.30)"/></g>
<line x1="126.1" y1="395.8" x2="119.0" y2="338.9" stroke="#222" stroke-width="0.9"/>
<circle cx="119.0" cy="338.9" r="1.6" fill="#000"/>
<circle cx="127.8" cy="409.7" r="14.0" fill="#fff" stroke="#333" stroke-width="1"/>
<g transform="translate(127.80 409.70) scale(0.915)" fill="none" stroke="#111" stroke-width="1.42" stroke-linejoin="round" stroke-linecap="butt"><path d="M0,2.4 L2.6,0 L2.6,10.6" transform="translate(-5.25 -5.30)"/><path d="M4.3,10.6 L4.3,0 L0,7.6 L5.9,7.6" transform="translate(-0.55 -5.30)"/></g>
<line x1="162.3" y1="413.8" x2="148.0" y2="340.0" stroke="#222" stroke-width="0.9"/>
<circle cx="148.0" cy="340.0" r="1.6" fill="#000"/>
<circle cx="165.0" cy="427.5" r="14.0" fill="#fff" stroke="#333" stroke-width="1"/>
<g transform="translate(165.00 427.50) scale(0.915)" fill="none" stroke="#111" stroke-width="1.42" stroke-linejoin="round" stroke-linecap="butt"><path d="M0,2.4 L2.6,0 L2.6,10.6" transform="translate(-5.15 -5.30)"/><path d="M5.2,0 L0.7,0 L0.4,4.9 C1.1,4.2 1.9,3.9 2.9,3.9 C4.6,3.9 5.6,5.1 5.6,7.1 C5.6,9.3 4.4,10.6 2.8,10.6 C1.5,10.6 0.5,9.9 0.1,8.7" transform="translate(-0.45 -5.30)"/></g>
<line x1="484.5" y1="198.5" x2="433.7" y2="216.5" stroke="#222" stroke-width="0.9"/>
<circle cx="433.7" cy="216.5" r="1.6" fill="#000"/>
<circle cx="497.7" cy="193.8" r="14.0" fill="#fff" stroke="#333" stroke-width="1"/>
<g transform="translate(497.70 193.80) scale(0.915)" fill="none" stroke="#111" stroke-width="1.42" stroke-linejoin="round" stroke-linecap="butt"><path d="M0,2.4 L2.6,0 L2.6,10.6" transform="translate(-5.15 -5.30)"/><path d="M4.6,0 L1.2,5.2 C0.5,6.2 0.1,6.9 0.1,7.8 C0.1,9.5 1.2,10.6 2.8,10.6 C4.4,10.6 5.5,9.5 5.5,7.7 C5.5,5.9 4.4,4.9 2.9,4.9 C2.2,4.9 1.6,5.1 1.1,5.5" transform="translate(-0.45 -5.30)"/></g>
<circle cx="289.4" cy="454.0" r="14.0" fill="#fff" stroke="#333" stroke-width="1"/>
<g transform="translate(289.40 454.00) scale(0.915)" fill="none" stroke="#111" stroke-width="1.42" stroke-linejoin="round" stroke-linecap="butt"><path d="M0,2.4 L2.6,0 L2.6,10.6" transform="translate(-5.15 -5.30)"/><path d="M0,0 L5.6,0 L1.8,10.6" transform="translate(-0.45 -5.30)"/></g>
<line x1="432.8" y1="163.8" x2="396.0" y2="196.0" stroke="#222" stroke-width="0.9"/>
<circle cx="396.0" cy="196.0" r="1.6" fill="#000"/>
<circle cx="443.3" cy="154.6" r="14.0" fill="#fff" stroke="#333" stroke-width="1"/>
<g transform="translate(443.30 154.60) scale(0.915)" fill="none" stroke="#111" stroke-width="1.42" stroke-linejoin="round" stroke-linecap="butt"><path d="M0,2.4 L2.6,0 L2.6,10.6" transform="translate(-5.15 -5.30)"/><path d="M2.8,4.9 C1.3,4.9 0.4,4 0.4,2.5 C0.4,1 1.4,0 2.8,0 C4.2,0 5.2,1 5.2,2.5 C5.2,4 4.3,4.9 2.8,4.9 C1.1,4.9 0,6 0,7.7 C0,9.5 1.2,10.6 2.8,10.6 C4.4,10.6 5.6,9.5 5.6,7.7 C5.6,6 4.5,4.9 2.8,4.9 Z" transform="translate(-0.45 -5.30)"/></g>
<line x1="375.9" y1="130.5" x2="344.0" y2="164.0" stroke="#222" stroke-width="0.9"/>
<circle cx="344.0" cy="164.0" r="1.6" fill="#000"/>
<circle cx="385.6" cy="120.4" r="14.0" fill="#fff" stroke="#333" stroke-width="1"/>
<g transform="translate(385.60 120.40) scale(0.915)" fill="none" stroke="#111" stroke-width="1.42" stroke-linejoin="round" stroke-linecap="butt"><path d="M0,2.4 L2.6,0 L2.6,10.6" transform="translate(-5.15 -5.30)"/><path d="M1,10.6 L4.4,5.4 C5.1,4.4 5.5,3.7 5.5,2.8 C5.5,1.1 4.4,0 2.8,0 C1.2,0 0.1,1.1 0.1,2.9 C0.1,4.7 1.2,5.7 2.7,5.7 C3.4,5.7 4,5.5 4.5,5.1" transform="translate(-0.45 -5.30)"/></g>
<line x1="404.9" y1="147.3" x2="376.0" y2="180.0" stroke="#222" stroke-width="0.9"/>
<circle cx="376.0" cy="180.0" r="1.6" fill="#000"/>
<circle cx="414.2" cy="136.8" r="14.0" fill="#fff" stroke="#333" stroke-width="1"/>
<g transform="translate(414.20 136.80) scale(0.915)" fill="none" stroke="#111" stroke-width="1.42" stroke-linejoin="round" stroke-linecap="butt"><path d="M0,2.4 L2.6,0 L2.6,10.6" transform="translate(-5.15 -5.30)"/><path d="M1,10.6 L4.4,5.4 C5.1,4.4 5.5,3.7 5.5,2.8 C5.5,1.1 4.4,0 2.8,0 C1.2,0 0.1,1.1 0.1,2.9 C0.1,4.7 1.2,5.7 2.7,5.7 C3.4,5.7 4,5.5 4.5,5.1" transform="translate(-0.45 -5.30)"/></g>
<line x1="347.9" y1="115.5" x2="324.0" y2="153.0" stroke="#222" stroke-width="0.9"/>
<circle cx="324.0" cy="153.0" r="1.6" fill="#000"/>
<circle cx="355.4" cy="103.7" r="14.0" fill="#fff" stroke="#333" stroke-width="1"/>
<g transform="translate(355.40 103.70) scale(0.915)" fill="none" stroke="#111" stroke-width="1.42" stroke-linejoin="round" stroke-linecap="butt"><path d="M0.1,2.7 C0.3,1 1.4,0 2.8,0 C4.4,0 5.4,1.1 5.4,2.7 C5.4,3.9 4.9,4.8 4.1,5.8 L0.1,10.6 L5.7,10.6" transform="translate(-6.35 -5.30)"/><path d="M2.8,0 C4.6,0 5.6,1.6 5.6,3.6 L5.6,7 C5.6,9 4.6,10.6 2.8,10.6 C1,10.6 0,9 0,7 L0,3.6 C0,1.6 1,0 2.8,0 Z" transform="translate(0.75 -5.30)"/></g>
<line x1="319.2" y1="100.6" x2="302.0" y2="145.0" stroke="#222" stroke-width="0.9"/>
<circle cx="302.0" cy="145.0" r="1.6" fill="#000"/>
<circle cx="324.3" cy="87.5" r="14.0" fill="#fff" stroke="#333" stroke-width="1"/>
<g transform="translate(324.30 87.50) scale(0.915)" fill="none" stroke="#111" stroke-width="1.42" stroke-linejoin="round" stroke-linecap="butt"><path d="M0.1,2.7 C0.3,1 1.4,0 2.8,0 C4.4,0 5.4,1.1 5.4,2.7 C5.4,3.9 4.9,4.8 4.1,5.8 L0.1,10.6 L5.7,10.6" transform="translate(-5.15 -5.30)"/><path d="M0,2.4 L2.6,0 L2.6,10.6" transform="translate(1.95 -5.30)"/></g>
<line x1="290.8" y1="87.9" x2="284.0" y2="137.0" stroke="#222" stroke-width="0.9"/>
<circle cx="284.0" cy="137.0" r="1.6" fill="#000"/>
<circle cx="292.7" cy="74.0" r="14.0" fill="#fff" stroke="#333" stroke-width="1"/>
<g transform="translate(292.70 74.00) scale(0.915)" fill="none" stroke="#111" stroke-width="1.42" stroke-linejoin="round" stroke-linecap="butt"><path d="M0.1,2.7 C0.3,1 1.4,0 2.8,0 C4.4,0 5.4,1.1 5.4,2.7 C5.4,3.9 4.9,4.8 4.1,5.8 L0.1,10.6 L5.7,10.6" transform="translate(-6.35 -5.30)"/><path d="M0.1,2.7 C0.3,1 1.4,0 2.8,0 C4.4,0 5.4,1.1 5.4,2.7 C5.4,3.9 4.9,4.8 4.1,5.8 L0.1,10.6 L5.7,10.6" transform="translate(0.75 -5.30)"/></g>
<line x1="457.8" y1="179.8" x2="418.0" y2="203.0" stroke="#222" stroke-width="0.9"/>
<circle cx="418.0" cy="203.0" r="1.6" fill="#000"/>
<circle cx="469.9" cy="172.8" r="14.0" fill="#fff" stroke="#333" stroke-width="1"/>
<g transform="translate(469.90 172.80) scale(0.915)" fill="none" stroke="#111" stroke-width="1.42" stroke-linejoin="round" stroke-linecap="butt"><path d="M0.1,2.7 C0.3,1 1.4,0 2.8,0 C4.4,0 5.4,1.1 5.4,2.7 C5.4,3.9 4.9,4.8 4.1,5.8 L0.1,10.6 L5.7,10.6" transform="translate(-6.35 -5.30)"/><path d="M0.1,2.7 C0.3,1 1.4,0 2.8,0 C4.4,0 5.4,1.1 5.4,2.7 C5.4,3.9 4.9,4.8 4.1,5.8 L0.1,10.6 L5.7,10.6" transform="translate(0.75 -5.30)"/></g>
<line x1="262.2" y1="73.3" x2="268.0" y2="131.0" stroke="#222" stroke-width="0.9"/>
<circle cx="268.0" cy="131.0" r="1.6" fill="#000"/>
<circle cx="260.8" cy="58.9" r="14.5" fill="#fff" stroke="#333" stroke-width="1"/>
<g transform="translate(260.80 58.90) scale(0.915)" fill="none" stroke="#111" stroke-width="1.42" stroke-linejoin="round" stroke-linecap="butt"><path d="M0.1,2.7 C0.3,1 1.4,0 2.8,0 C4.4,0 5.4,1.1 5.4,2.7 C5.4,3.9 4.9,4.8 4.1,5.8 L0.1,10.6 L5.7,10.6" transform="translate(-6.35 -5.30)"/><path d="M0.2,1.9 C0.7,0.6 1.7,0 2.8,0 C4.3,0 5.3,1 5.3,2.6 C5.3,4.1 4.2,5 2.5,5 C4.4,5 5.6,6 5.6,7.8 C5.6,9.6 4.4,10.6 2.8,10.6 C1.5,10.6 0.4,9.9 0.1,8.6" transform="translate(0.75 -5.30)"/></g>
<line x1="920.4" y1="660.6" x2="962.3" y2="634.6" stroke="#222" stroke-width="0.9"/>
<circle cx="962.3" cy="634.6" r="1.6" fill="#000"/>
<circle cx="908.1" cy="668.2" r="14.5" fill="#fff" stroke="#333" stroke-width="1"/>
<g transform="translate(908.10 668.20) scale(0.915)" fill="none" stroke="#111" stroke-width="1.42" stroke-linejoin="round" stroke-linecap="butt"><path d="M0.1,2.7 C0.3,1 1.4,0 2.8,0 C4.4,0 5.4,1.1 5.4,2.7 C5.4,3.9 4.9,4.8 4.1,5.8 L0.1,10.6 L5.7,10.6" transform="translate(-6.45 -5.30)"/><path d="M4.3,10.6 L4.3,0 L0,7.6 L5.9,7.6" transform="translate(0.65 -5.30)"/></g>
<line x1="958.4" y1="661.5" x2="976.3" y2="634.6" stroke="#222" stroke-width="0.9"/>
<circle cx="976.3" cy="634.6" r="1.6" fill="#000"/>
<circle cx="950.4" cy="673.6" r="14.5" fill="#fff" stroke="#333" stroke-width="1"/>
<g transform="translate(950.40 673.60) scale(0.915)" fill="none" stroke="#111" stroke-width="1.42" stroke-linejoin="round" stroke-linecap="butt"><path d="M0.1,2.7 C0.3,1 1.4,0 2.8,0 C4.4,0 5.4,1.1 5.4,2.7 C5.4,3.9 4.9,4.8 4.1,5.8 L0.1,10.6 L5.7,10.6" transform="translate(-6.45 -5.30)"/><path d="M4.3,10.6 L4.3,0 L0,7.6 L5.9,7.6" transform="translate(0.65 -5.30)"/></g>
<line x1="992.9" y1="662.4" x2="991.5" y2="634.6" stroke="#222" stroke-width="0.9"/>
<circle cx="991.5" cy="634.6" r="1.6" fill="#000"/>
<circle cx="993.7" cy="676.9" r="14.5" fill="#fff" stroke="#333" stroke-width="1"/>
<g transform="translate(993.70 676.90) scale(0.915)" fill="none" stroke="#111" stroke-width="1.42" stroke-linejoin="round" stroke-linecap="butt"><path d="M0.1,2.7 C0.3,1 1.4,0 2.8,0 C4.4,0 5.4,1.1 5.4,2.7 C5.4,3.9 4.9,4.8 4.1,5.8 L0.1,10.6 L5.7,10.6" transform="translate(-6.35 -5.30)"/><path d="M5.2,0 L0.7,0 L0.4,4.9 C1.1,4.2 1.9,3.9 2.9,3.9 C4.6,3.9 5.6,5.1 5.6,7.1 C5.6,9.3 4.4,10.6 2.8,10.6 C1.5,10.6 0.5,9.9 0.1,8.7" transform="translate(0.75 -5.30)"/></g>
<line x1="1029.7" y1="663.3" x2="1001.2" y2="627.0" stroke="#222" stroke-width="0.9"/>
<circle cx="1001.2" cy="627.0" r="1.6" fill="#000"/>
<circle cx="1038.7" cy="674.7" r="14.5" fill="#fff" stroke="#333" stroke-width="1"/>
<g transform="translate(1038.70 674.70) scale(0.915)" fill="none" stroke="#111" stroke-width="1.42" stroke-linejoin="round" stroke-linecap="butt"><path d="M0.1,2.7 C0.3,1 1.4,0 2.8,0 C4.4,0 5.4,1.1 5.4,2.7 C5.4,3.9 4.9,4.8 4.1,5.8 L0.1,10.6 L5.7,10.6" transform="translate(-6.45 -5.30)"/><path d="M4.3,10.6 L4.3,0 L0,7.6 L5.9,7.6" transform="translate(0.65 -5.30)"/></g>
<line x1="1071.9" y1="658.8" x2="1013.0" y2="628.0" stroke="#222" stroke-width="0.9"/>
<circle cx="1013.0" cy="628.0" r="1.6" fill="#000"/>
<circle cx="1084.8" cy="665.5" r="14.5" fill="#fff" stroke="#333" stroke-width="1"/>
<g transform="translate(1084.80 665.50) scale(0.915)" fill="none" stroke="#111" stroke-width="1.42" stroke-linejoin="round" stroke-linecap="butt"><path d="M0.1,2.7 C0.3,1 1.4,0 2.8,0 C4.4,0 5.4,1.1 5.4,2.7 C5.4,3.9 4.9,4.8 4.1,5.8 L0.1,10.6 L5.7,10.6" transform="translate(-6.45 -5.30)"/><path d="M4.3,10.6 L4.3,0 L0,7.6 L5.9,7.6" transform="translate(0.65 -5.30)"/></g>
<line x1="1099.5" y1="635.3" x2="1029.4" y2="623.4" stroke="#222" stroke-width="0.9"/>
<circle cx="1029.4" cy="623.4" r="1.6" fill="#000"/>
<circle cx="1113.8" cy="637.7" r="14.5" fill="#fff" stroke="#333" stroke-width="1"/>
<g transform="translate(1113.80 637.70) scale(0.915)" fill="none" stroke="#111" stroke-width="1.42" stroke-linejoin="round" stroke-linecap="butt"><path d="M0.1,2.7 C0.3,1 1.4,0 2.8,0 C4.4,0 5.4,1.1 5.4,2.7 C5.4,3.9 4.9,4.8 4.1,5.8 L0.1,10.6 L5.7,10.6" transform="translate(-6.35 -5.30)"/><path d="M5.2,0 L0.7,0 L0.4,4.9 C1.1,4.2 1.9,3.9 2.9,3.9 C4.6,3.9 5.6,5.1 5.6,7.1 C5.6,9.3 4.4,10.6 2.8,10.6 C1.5,10.6 0.5,9.9 0.1,8.7" transform="translate(0.75 -5.30)"/></g>
<line x1="1099.7" y1="419.2" x2="1015.0" y2="414.8" stroke="#222" stroke-width="0.9"/>
<circle cx="1015.0" cy="414.8" r="1.6" fill="#000"/>
<circle cx="1114.2" cy="420.0" r="14.5" fill="#fff" stroke="#333" stroke-width="1"/>
<g transform="translate(1114.20 420.00) scale(0.915)" fill="none" stroke="#111" stroke-width="1.42" stroke-linejoin="round" stroke-linecap="butt"><path d="M0.1,2.7 C0.3,1 1.4,0 2.8,0 C4.4,0 5.4,1.1 5.4,2.7 C5.4,3.9 4.9,4.8 4.1,5.8 L0.1,10.6 L5.7,10.6" transform="translate(-6.35 -5.30)"/><path d="M4.6,0 L1.2,5.2 C0.5,6.2 0.1,6.9 0.1,7.8 C0.1,9.5 1.2,10.6 2.8,10.6 C4.4,10.6 5.5,9.5 5.5,7.7 C5.5,5.9 4.4,4.9 2.9,4.9 C2.2,4.9 1.6,5.1 1.1,5.5" transform="translate(0.75 -5.30)"/></g>
<line x1="1094.2" y1="473.0" x2="1052.9" y2="449.6" stroke="#222" stroke-width="0.9"/>
<circle cx="1052.9" cy="449.6" r="1.6" fill="#000"/>
<circle cx="1106.6" cy="480.0" r="14.3" fill="#fff" stroke="#333" stroke-width="1"/>
<g transform="translate(1106.60 480.00) scale(0.915)" fill="none" stroke="#111" stroke-width="1.42" stroke-linejoin="round" stroke-linecap="butt"><path d="M0.1,2.7 C0.3,1 1.4,0 2.8,0 C4.4,0 5.4,1.1 5.4,2.7 C5.4,3.9 4.9,4.8 4.1,5.8 L0.1,10.6 L5.7,10.6" transform="translate(-6.35 -5.30)"/><path d="M4.6,0 L1.2,5.2 C0.5,6.2 0.1,6.9 0.1,7.8 C0.1,9.5 1.2,10.6 2.8,10.6 C4.4,10.6 5.5,9.5 5.5,7.7 C5.5,5.9 4.4,4.9 2.9,4.9 C2.2,4.9 1.6,5.1 1.1,5.5" transform="translate(0.75 -5.30)"/></g>
<line x1="687.6" y1="363.2" x2="687.6" y2="406.5" stroke="#222" stroke-width="0.9"/>
<circle cx="687.6" cy="406.5" r="1.6" fill="#000"/>
<circle cx="687.6" cy="348.7" r="14.5" fill="#fff" stroke="#333" stroke-width="1"/>
<g transform="translate(687.60 348.70) scale(0.915)" fill="none" stroke="#111" stroke-width="1.42" stroke-linejoin="round" stroke-linecap="butt"><path d="M0.1,2.7 C0.3,1 1.4,0 2.8,0 C4.4,0 5.4,1.1 5.4,2.7 C5.4,3.9 4.9,4.8 4.1,5.8 L0.1,10.6 L5.7,10.6" transform="translate(-6.35 -5.30)"/><path d="M0,0 L5.6,0 L1.8,10.6" transform="translate(0.75 -5.30)"/></g>
<polyline points="303.4,454.6 424.6,459.4 418.7,431.1" fill="none" stroke="#222" stroke-width="0.9"/><circle cx="418.7" cy="431.1" r="1.6" fill="#000"/>
</svg></body></html>
